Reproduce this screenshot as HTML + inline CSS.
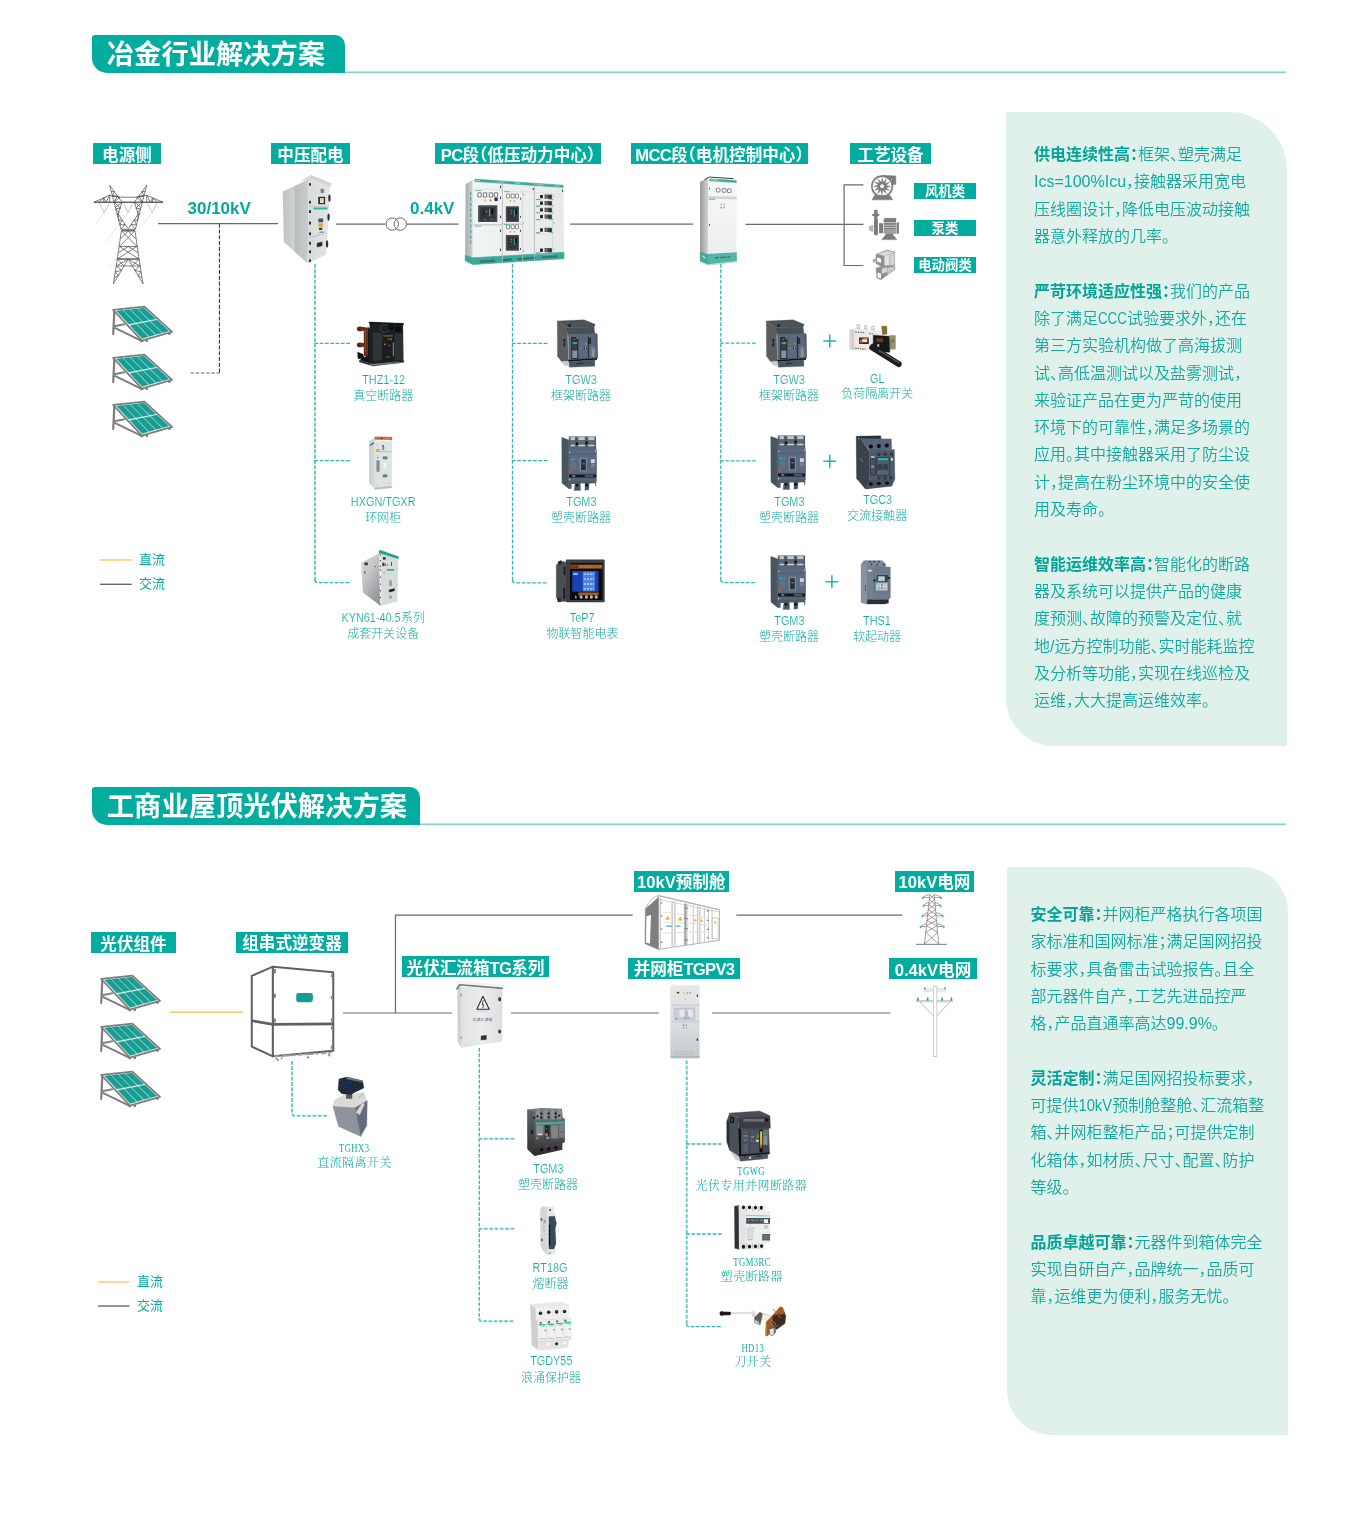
<!DOCTYPE html>
<html lang="zh-CN">
<head>
<meta charset="utf-8">
<title>冶金行业解决方案 / 工商业屋顶光伏解决方案</title>
<style>
html,body{margin:0;padding:0;background:#fff}
body{width:1350px;height:1528px;position:relative;overflow:hidden;font-family:"Liberation Sans","Noto Sans CJK SC",sans-serif;color:#03a99d}
#page{position:absolute;left:0;top:0;width:1350px;height:1528px;will-change:transform}
#lines{position:absolute;left:0;top:0;width:1350px;height:1528px}
.hd{position:absolute;background:#02ada0;color:#fff;font-weight:bold;font-size:27.3px;line-height:38px;height:38px;box-sizing:border-box;padding-left:15.3px;padding-top:1.6px;white-space:nowrap;border-radius:3px 10px 0 15px}
.tag{position:absolute;background:#02ada0;color:#fff;font-weight:bold;font-size:16.6px;line-height:21px;height:21px;box-sizing:border-box;padding-top:1.6px;text-align:center;white-space:nowrap;font-feature-settings:"halt" 1}
.tag .en{letter-spacing:-.7px}
.stag{position:absolute;background:#02ada0;color:#fff;font-weight:bold;font-size:13.4px;line-height:16px;height:16px;box-sizing:border-box;padding-top:1px;text-align:center;white-space:nowrap}
.kv{position:absolute;color:#03a99d;font-weight:bold;font-size:17px;line-height:20px;white-space:nowrap}
.lb{position:absolute;color:#10ada1;font-size:12px;line-height:14.6px;text-align:center;white-space:nowrap;width:160px;margin-left:-80px;font-weight:300}
.lb i{font-style:normal;font-size:12.5px;display:inline-block;transform:scaleX(.87);line-height:14.6px;vertical-align:top;-webkit-text-stroke:.14px #fff}
.lb u{text-decoration:none;display:block;margin-top:1.9px}
.ls{position:absolute;color:#10ada1;font-size:12px;line-height:14.3px;text-align:center;white-space:nowrap;width:160px;margin-left:-80px;font-family:"Liberation Serif","Noto Serif CJK SC",serif;font-weight:300;letter-spacing:.4px}
.ls i{font-style:normal;display:inline-block;transform:scaleX(.72);letter-spacing:.6px}
.lg{position:absolute;color:#03a99d;font-size:13px;line-height:16px;white-space:nowrap}
.panel{position:absolute;background:#e0f1ec}
.tx{position:absolute;color:#12aa9e;font-size:16px;line-height:27.3px;white-space:nowrap;font-feature-settings:"halt" 1;font-weight:350}
.tx b{font-weight:bold;color:#03a398}
.tx p{margin:0 0 27.3px 0}
.pr{position:absolute;overflow:visible}
</style>
</head>
<body>
<div id="page">

<div class="panel" style="left:1006px;top:112px;width:281px;height:634px;border-radius:0 58px 0 48px"></div>
<div class="panel" style="left:1007px;top:867px;width:281px;height:568px;border-radius:0 45px 0 45px"></div>
<svg id="lines" viewBox="0 0 1350 1528" width="1350" height="1528">
<line x1="345" y1="72.2" x2="1286" y2="72.2" stroke="#7fd3c9" stroke-width="1.6"/>
<line x1="420" y1="824.2" x2="1286" y2="824.2" stroke="#7fd3c9" stroke-width="1.6"/>
<line x1="158" y1="223.6" x2="278" y2="223.6" stroke="#6a6a6a" stroke-width="1.2"/>
<line x1="336" y1="224.1" x2="385.5" y2="224.1" stroke="#6a6a6a" stroke-width="1.2"/>
<line x1="407" y1="224.1" x2="458.5" y2="224.1" stroke="#6a6a6a" stroke-width="1.2"/>
<circle cx="392.3" cy="224.1" r="6.2" fill="none" stroke="#6a6a6a" stroke-width="1"/>
<circle cx="400.3" cy="224.1" r="6.2" fill="none" stroke="#6a6a6a" stroke-width="1"/>
<line x1="570" y1="224.2" x2="693" y2="224.2" stroke="#6a6a6a" stroke-width="1.2"/>
<line x1="745.5" y1="224.4" x2="863.4" y2="224.4" stroke="#6a6a6a" stroke-width="1.2"/>
<polyline points="863.4,184.8 844.1,184.8 844.1,265.5 863.4,265.5" fill="none" stroke="#6a6a6a" stroke-width="1.2"/>
<line x1="219.45" y1="223.6" x2="219.45" y2="373" stroke="#3c3c3c" stroke-width="1.1" stroke-dasharray="4.1 1.7"/>
<line x1="190.5" y1="373" x2="219.5" y2="373" stroke="#999" stroke-width="1.6" stroke-dasharray="3.6 1.6"/>
<polyline points="315,264 315,581.1" fill="none" stroke="#62cdc2" stroke-width="2" stroke-dasharray="3.7 1.6"/>
<line x1="314.4" y1="343.3" x2="351" y2="343.3" stroke="#2fb9ad" stroke-width="1.3" stroke-dasharray="3.7 1.6"/>
<line x1="314.4" y1="460.6" x2="351" y2="460.6" stroke="#2fb9ad" stroke-width="1.3" stroke-dasharray="3.7 1.6"/>
<path d="M315,580.1 Q315,582.6 317.5,582.6 L351,582.6" fill="none" stroke="#2fb9ad" stroke-width="1.3" stroke-dasharray="3.7 1.6"/>
<polyline points="512.5,264 512.5,581.3" fill="none" stroke="#2fb9ad" stroke-width="1.3" stroke-dasharray="3.7 1.6"/>
<line x1="511.9" y1="343.3" x2="548" y2="343.3" stroke="#2fb9ad" stroke-width="1.3" stroke-dasharray="3.7 1.6"/>
<line x1="511.9" y1="460.6" x2="548" y2="460.6" stroke="#2fb9ad" stroke-width="1.3" stroke-dasharray="3.7 1.6"/>
<path d="M512.5,580.3 Q512.5,582.8 515.0,582.8 L548,582.8" fill="none" stroke="#2fb9ad" stroke-width="1.3" stroke-dasharray="3.7 1.6"/>
<polyline points="720.8,264 720.8,581.1" fill="none" stroke="#2fb9ad" stroke-width="1.3" stroke-dasharray="3.7 1.6"/>
<line x1="720.1999999999999" y1="343.2" x2="756" y2="343.2" stroke="#2fb9ad" stroke-width="1.3" stroke-dasharray="3.7 1.6"/>
<line x1="720.1999999999999" y1="460.9" x2="756" y2="460.9" stroke="#2fb9ad" stroke-width="1.3" stroke-dasharray="3.7 1.6"/>
<path d="M720.8,580.1 Q720.8,582.6 723.3,582.6 L756,582.6" fill="none" stroke="#2fb9ad" stroke-width="1.3" stroke-dasharray="3.7 1.6"/>
<line x1="823.3" y1="341" x2="836.3" y2="341" stroke="#03a99d" stroke-width="1.3"/>
<line x1="829.8" y1="334.5" x2="829.8" y2="347.5" stroke="#03a99d" stroke-width="1.3"/>
<line x1="823.3" y1="461.2" x2="836.3" y2="461.2" stroke="#03a99d" stroke-width="1.3"/>
<line x1="829.8" y1="454.7" x2="829.8" y2="467.7" stroke="#03a99d" stroke-width="1.3"/>
<line x1="825.4" y1="581.8" x2="838.4" y2="581.8" stroke="#03a99d" stroke-width="1.3"/>
<line x1="831.9" y1="575.3" x2="831.9" y2="588.3" stroke="#03a99d" stroke-width="1.3"/>
<line x1="100" y1="560" x2="131.7" y2="560" stroke="#f6c667" stroke-width="1.4"/>
<line x1="100" y1="584.3" x2="131.7" y2="584.3" stroke="#666" stroke-width="1.4"/>
<line x1="169.6" y1="1012.3" x2="243" y2="1012.3" stroke="#f6c667" stroke-width="1.6"/>
<line x1="343" y1="1013.0" x2="452" y2="1013.0" stroke="#6a6a6a" stroke-width="1.2"/>
<line x1="511" y1="1013.0" x2="658.7" y2="1013.0" stroke="#6a6a6a" stroke-width="1.2"/>
<line x1="712" y1="1013.0" x2="890.4" y2="1013.0" stroke="#6a6a6a" stroke-width="1.2"/>
<polyline points="395.45,1013.0 395.45,915.1 632.6,915.1" fill="none" stroke="#6a6a6a" stroke-width="1.2"/>
<line x1="736.3" y1="915.1" x2="902.2" y2="915.1" stroke="#6a6a6a" stroke-width="1.2"/>
<path d="M292,1061 L292,1113 Q292,1115.8 295,1115.8 L328,1115.8" fill="none" stroke="#62cdc2" stroke-width="2" stroke-dasharray="3.7 1.6"/>
<polyline points="479.3,1048 479.3,1319.8" fill="none" stroke="#2fb9ad" stroke-width="1.3" stroke-dasharray="3.7 1.6"/>
<line x1="478.7" y1="1138.8" x2="515" y2="1138.8" stroke="#62cdc2" stroke-width="2" stroke-dasharray="3.7 1.6"/>
<line x1="478.7" y1="1228.8" x2="515" y2="1228.8" stroke="#62cdc2" stroke-width="2" stroke-dasharray="3.7 1.6"/>
<path d="M479.3,1318.8 Q479.3,1321.3 481.8,1321.3 L515,1321.3" fill="none" stroke="#62cdc2" stroke-width="2" stroke-dasharray="3.7 1.6"/>
<polyline points="686.7,1060.5 686.7,1325.2" fill="none" stroke="#62cdc2" stroke-width="2" stroke-dasharray="3.7 1.6"/>
<line x1="686.1" y1="1144" x2="722.5" y2="1144" stroke="#2fb9ad" stroke-width="1.3" stroke-dasharray="3.7 1.6"/>
<line x1="686.1" y1="1234" x2="722.5" y2="1234" stroke="#2fb9ad" stroke-width="1.3" stroke-dasharray="3.7 1.6"/>
<path d="M686.7,1324.2 Q686.7,1326.7 689.2,1326.7 L722.5,1326.7" fill="none" stroke="#2fb9ad" stroke-width="1.3" stroke-dasharray="3.7 1.6"/>
<line x1="98" y1="1282" x2="129.4" y2="1282" stroke="#f6c667" stroke-width="1.4"/>
<line x1="98" y1="1306" x2="129.4" y2="1306" stroke="#666" stroke-width="1.4"/>
</svg>
<div class="hd" style="left:91.5px;top:34.5px;width:253.2px">冶金行业解决方案</div>
<div class="hd" style="left:91.5px;top:786.5px;width:328.4px">工商业屋顶光伏解决方案</div>
<div class="tag" style="left:93px;top:143px;width:68px">电源侧</div>
<div class="tag" style="left:271px;top:143px;width:79px">中压配电</div>
<div class="tag" style="left:435px;top:143px;width:166px"><span class="en">PC</span>段（低压动力中心）</div>
<div class="tag" style="left:631px;top:143px;width:177px"><span class="en">MCC</span>段（电机控制中心）</div>
<div class="tag" style="left:850px;top:143px;width:81px">工艺设备</div>
<div class="stag" style="left:914px;top:183px;width:62px">风机类</div>
<div class="stag" style="left:914px;top:220px;width:62px">泵类</div>
<div class="stag" style="left:914px;top:256.5px;width:62px">电动阀类</div>
<div class="tag" style="left:91px;top:932px;width:85px">光伏组件</div>
<div class="tag" style="left:236px;top:931.5px;width:112px">组串式逆变器</div>
<div class="tag" style="left:402px;top:956px;width:147px">光伏汇流箱<span class="en">TG</span>系列</div>
<div class="tag" style="left:633.5px;top:870.5px;width:95.5px">10kV预制舱</div>
<div class="tag" style="left:895px;top:870.5px;width:79px">10kV电网</div>
<div class="tag" style="left:628px;top:957.5px;width:112px">并网柜<span class="en">TGPV3</span></div>
<div class="tag" style="left:889px;top:958px;width:88px">0.4kV电网</div>
<div class="kv" style="left:187.5px;top:198.8px">30/10kV</div>
<div class="kv" style="left:410px;top:198.8px">0.4kV</div>
<div class="lg" style="left:139px;top:551.5px">直流</div>
<div class="lg" style="left:139px;top:575.5px">交流</div>
<div class="lg" style="left:137px;top:1273.5px">直流</div>
<div class="lg" style="left:137px;top:1297.5px">交流</div>
<div class="lb" style="left:383.3px;top:372.7px"><i>THZ1-12</i><u>真空断路器</u></div>
<div class="lb" style="left:383.3px;top:494.8px"><i>HXGN/TGXR</i><u style="margin-top:1.6px">环网柜</u></div>
<div class="lb" style="left:383.3px;top:611px"><i style="margin:0 -4.4px">KYN61-40.5</i>系列<u>成套开关设备</u></div>
<div class="lb" style="left:581px;top:373px"><i>TGW3</i><u>框架断路器</u></div>
<div class="lb" style="left:581px;top:494.8px"><i>TGM3</i><u>塑壳断路器</u></div>
<div class="lb" style="left:582.5px;top:611px"><i>TeP7</i><u>物联智能电表</u></div>
<div class="lb" style="left:789px;top:373px"><i>TGW3</i><u style="margin-top:1.5px">框架断路器</u></div>
<div class="lb" style="left:789px;top:494.8px"><i>TGM3</i><u>塑壳断路器</u></div>
<div class="lb" style="left:789px;top:613.7px"><i>TGM3</i><u>塑壳断路器</u></div>
<div class="lb" style="left:877.3px;top:372.2px"><i>GL</i><u style="margin-top:0.2px">负荷隔离开关</u></div>
<div class="lb" style="left:877.3px;top:493.4px"><i>TGC3</i><u style="margin-top:1.4px">交流接触器</u></div>
<div class="lb" style="left:877px;top:613.7px"><i>THS1</i><u>软起动器</u></div>
<div class="lb" style="left:548px;top:1161.5px"><i>TGM3</i><u>塑壳断路器</u></div>
<div class="lb" style="left:550.5px;top:1260.5px"><i>RT18G</i><u>熔断器</u></div>
<div class="lb" style="left:551px;top:1354.2px"><i>TGDY55</i><u>浪涌保护器</u></div>
<div class="ls" style="left:354.5px;top:1141.4px"><i>TGHX3</i><br>直流隔离开关</div>
<div class="ls" style="left:751.3px;top:1164.4px"><i>TGWG</i><br>光伏专用并网断路器</div>
<div class="ls" style="left:751.8px;top:1255.4px"><i>TGM3RC</i><br>塑壳断路器</div>
<div class="ls" style="left:753px;top:1341.2px"><i>HD13</i><br>刀开关</div>
<div class="tx" style="left:1034px;top:141.2px">
<p><b>供电连续性高：</b>框架、塑壳满足<br>Ics=100%Icu，接触器采用宽电<br>压线圈设计，降低电压波动接触<br>器意外释放的几率。</p>
<p><b>严苛环境适应性强：</b>我们的产品<br>除了满足<span style="display:inline-block;transform:scaleX(.83);margin:0 -2.9px">CCC</span>试验要求外，还在<br>第三方实验机构做了高海拔测<br>试、高低温测试以及盐雾测试，<br>来验证产品在更为严苛的使用<br>环境下的可靠性，满足多场景的<br>应用。其中接触器采用了防尘设<br>计，提高在粉尘环境中的安全使<br>用及寿命。</p>
<p><b>智能运维效率高：</b>智能化的断路<br>器及系统可以提供产品的健康<br>度预测、故障的预警及定位、就<br>地/远方控制功能、实时能耗监控<br>及分析等功能，实现在线巡检及<br>运维，大大提高运维效率。</p>
</div>
<div class="tx" style="left:1030.5px;top:900.9px;line-height:27.31px">
<p style="margin-bottom:27.31px"><b>安全可靠：</b>并网柜严格执行各项国<br>家标准和国网标准；满足国网招投<br>标要求，具备雷击试验报告。且全<br>部元器件自产，工艺先进品控严<br>格，产品直通率高达99.9%。</p>
<p style="margin-bottom:27.31px"><b>灵活定制：</b>满足国网招投标要求，<br>可提供<span style="display:inline-block;transform:scaleX(.92);margin:0 -1.4px">10kV</span>预制舱整舱、汇流箱整<br>箱、并网柜整柜产品；可提供定制<br>化箱体，如材质、尺寸、配置、防护<br>等级。</p>
<p><b>品质卓越可靠：</b>元器件到箱体完全<br>实现自研自产，品牌统一，品质可<br>靠，运维更为便利，服务无忧。</p>
</div>
<svg class="pr" style="left:84px;top:178px" width="90" height="112" viewBox="0 0 1228 1528" preserveAspectRatio="none"><path d="M135,330 L1078,330 M135,330 L350,235 L490,262 L720,262 L855,235 L1078,330 M200,330 L270,272 L300,330 L350,235 L350,330 M270,272 L270,330 M1006,330 L936,272 L906,330 L856,235 L856,330 M936,272 L936,330 M350,100 L410,330 M350,100 L520,330 M372,185 L415,185 L388,245 L455,245 L410,330 M388,245 L490,262 L410,330 M410,330 L505,700 M520,330 L465,490 L600,690 M410,330 L500,410 L435,420 L480,470 L450,490 L465,490 M520,330 L430,400 M465,490 L475,580 L520,570 L490,640 L560,635 L505,700 M510,720 L455,1105 L400,1445 M600,1112 L400,1445 M455,1105 L545,1200 L440,1200 L515,1260 L428,1280 L470,1330 L415,1360 M600,1112 L440,1200 M515,725 L725,935 M485,935 L750,1105 M500,830 L603,725 M470,1020 L603,935 M856,100 L796,330 M856,100 L686,330 M834,185 L791,185 L818,245 L751,245 L796,330 M818,245 L716,262 L796,330 M796,330 L701,700 M686,330 L741,490 L606,690 M796,330 L706,410 L771,420 L726,470 L756,490 L741,490 M686,330 L776,400 M741,490 L731,580 L686,570 L716,640 L646,635 L701,700 M696,720 L751,1105 L806,1445 M606,1112 L806,1445 M751,1105 L661,1200 L766,1200 L691,1260 L778,1280 L736,1330 L791,1360 M606,1112 L766,1200 M691,725 L481,935 M721,935 L456,1105 M706,830 L603,725 M736,1020 L603,935 M510,700 L695,700 M515,725 L690,725 M485,935 L725,935 M455,1105 L750,1105 M545,1200 L660,1200" fill="none" stroke="#4f4f4f" stroke-width="10" stroke-linejoin="round"/><path d="M135,330 L1078,330 M455,1105 L750,1105 M510,712 L695,712" fill="none" stroke="#4f4f4f" stroke-width="14"/><path d="M210,340 L275,470 L350,340 M540,350 L600,475 L665,350 M865,350 L930,470 L995,340" fill="none" stroke="#777" stroke-width="6"/><path d="M275,470 L165,625 M600,475 L300,860 M930,470 L700,760 M450,1090 L355,1200" fill="none" stroke="#bdbdbd" stroke-width="5"/></svg>
<svg class="pr" style="left:106px;top:300px" width="74" height="46" viewBox="0 0 1350 839" preserveAspectRatio="none"><path d="M152,200 L132,620" fill="none" stroke="#7d7d7d" stroke-width="40" stroke-linecap="round"/><path d="M150,480 L345,440 M150,505 L650,745" fill="none" stroke="#7d7d7d" stroke-width="36"/><rect x="630" y="735" width="50" height="35" fill="#7d7d7d"/><rect x="722" y="730" width="43" height="35" fill="#7d7d7d"/><rect x="1135" y="600" width="45" height="35" fill="#7d7d7d"/><polygon points="130,180 700,120 1205,580 655,742" fill="#fff" stroke="#7d7d7d" stroke-width="32" stroke-linejoin="round"/><polygon points="194,201 308,188 529,419 416,440" fill="#189d93" stroke="#189d93" stroke-width="7" stroke-linejoin="round"/><polygon points="438,463 550,441 772,671 660,702" fill="#189d93" stroke="#189d93" stroke-width="7" stroke-linejoin="round"/><polygon points="322,187 436,174 656,394 543,416" fill="#189d93" stroke="#189d93" stroke-width="7" stroke-linejoin="round"/><polygon points="565,438 677,415 897,635 786,667" fill="#189d93" stroke="#189d93" stroke-width="7" stroke-linejoin="round"/><polygon points="451,173 565,160 783,370 670,392" fill="#189d93" stroke="#189d93" stroke-width="7" stroke-linejoin="round"/><polygon points="691,413 804,390 1022,600 911,631" fill="#189d93" stroke="#189d93" stroke-width="7" stroke-linejoin="round"/><polygon points="579,159 693,146 910,346 797,367" fill="#189d93" stroke="#189d93" stroke-width="7" stroke-linejoin="round"/><polygon points="818,387 931,365 1148,564 1036,596" fill="#189d93" stroke="#189d93" stroke-width="7" stroke-linejoin="round"/></svg>
<svg class="pr" style="left:106px;top:347.6px" width="74" height="46.0" viewBox="0 0 1350 839" preserveAspectRatio="none"><path d="M152,200 L132,620" fill="none" stroke="#7d7d7d" stroke-width="40" stroke-linecap="round"/><path d="M150,480 L345,440 M150,505 L650,745" fill="none" stroke="#7d7d7d" stroke-width="36"/><rect x="630" y="735" width="50" height="35" fill="#7d7d7d"/><rect x="722" y="730" width="43" height="35" fill="#7d7d7d"/><rect x="1135" y="600" width="45" height="35" fill="#7d7d7d"/><polygon points="130,180 700,120 1205,580 655,742" fill="#fff" stroke="#7d7d7d" stroke-width="32" stroke-linejoin="round"/><polygon points="194,201 308,188 529,419 416,440" fill="#189d93" stroke="#189d93" stroke-width="7" stroke-linejoin="round"/><polygon points="438,463 550,441 772,671 660,702" fill="#189d93" stroke="#189d93" stroke-width="7" stroke-linejoin="round"/><polygon points="322,187 436,174 656,394 543,416" fill="#189d93" stroke="#189d93" stroke-width="7" stroke-linejoin="round"/><polygon points="565,438 677,415 897,635 786,667" fill="#189d93" stroke="#189d93" stroke-width="7" stroke-linejoin="round"/><polygon points="451,173 565,160 783,370 670,392" fill="#189d93" stroke="#189d93" stroke-width="7" stroke-linejoin="round"/><polygon points="691,413 804,390 1022,600 911,631" fill="#189d93" stroke="#189d93" stroke-width="7" stroke-linejoin="round"/><polygon points="579,159 693,146 910,346 797,367" fill="#189d93" stroke="#189d93" stroke-width="7" stroke-linejoin="round"/><polygon points="818,387 931,365 1148,564 1036,596" fill="#189d93" stroke="#189d93" stroke-width="7" stroke-linejoin="round"/></svg>
<svg class="pr" style="left:106px;top:395px" width="74" height="46" viewBox="0 0 1350 839" preserveAspectRatio="none"><path d="M152,200 L132,620" fill="none" stroke="#7d7d7d" stroke-width="40" stroke-linecap="round"/><path d="M150,480 L345,440 M150,505 L650,745" fill="none" stroke="#7d7d7d" stroke-width="36"/><rect x="630" y="735" width="50" height="35" fill="#7d7d7d"/><rect x="722" y="730" width="43" height="35" fill="#7d7d7d"/><rect x="1135" y="600" width="45" height="35" fill="#7d7d7d"/><polygon points="130,180 700,120 1205,580 655,742" fill="#fff" stroke="#7d7d7d" stroke-width="32" stroke-linejoin="round"/><polygon points="194,201 308,188 529,419 416,440" fill="#189d93" stroke="#189d93" stroke-width="7" stroke-linejoin="round"/><polygon points="438,463 550,441 772,671 660,702" fill="#189d93" stroke="#189d93" stroke-width="7" stroke-linejoin="round"/><polygon points="322,187 436,174 656,394 543,416" fill="#189d93" stroke="#189d93" stroke-width="7" stroke-linejoin="round"/><polygon points="565,438 677,415 897,635 786,667" fill="#189d93" stroke="#189d93" stroke-width="7" stroke-linejoin="round"/><polygon points="451,173 565,160 783,370 670,392" fill="#189d93" stroke="#189d93" stroke-width="7" stroke-linejoin="round"/><polygon points="691,413 804,390 1022,600 911,631" fill="#189d93" stroke="#189d93" stroke-width="7" stroke-linejoin="round"/><polygon points="579,159 693,146 910,346 797,367" fill="#189d93" stroke="#189d93" stroke-width="7" stroke-linejoin="round"/><polygon points="818,387 931,365 1148,564 1036,596" fill="#189d93" stroke="#189d93" stroke-width="7" stroke-linejoin="round"/></svg>
<svg class="pr" style="left:94px;top:968.6px" width="74" height="46.0" viewBox="0 0 1350 839" preserveAspectRatio="none"><path d="M152,200 L132,620" fill="none" stroke="#7d7d7d" stroke-width="40" stroke-linecap="round"/><path d="M150,480 L345,440 M150,505 L650,745" fill="none" stroke="#7d7d7d" stroke-width="36"/><rect x="630" y="735" width="50" height="35" fill="#7d7d7d"/><rect x="722" y="730" width="43" height="35" fill="#7d7d7d"/><rect x="1135" y="600" width="45" height="35" fill="#7d7d7d"/><polygon points="130,180 700,120 1205,580 655,742" fill="#fff" stroke="#7d7d7d" stroke-width="32" stroke-linejoin="round"/><polygon points="194,201 308,188 529,419 416,440" fill="#189d93" stroke="#189d93" stroke-width="7" stroke-linejoin="round"/><polygon points="438,463 550,441 772,671 660,702" fill="#189d93" stroke="#189d93" stroke-width="7" stroke-linejoin="round"/><polygon points="322,187 436,174 656,394 543,416" fill="#189d93" stroke="#189d93" stroke-width="7" stroke-linejoin="round"/><polygon points="565,438 677,415 897,635 786,667" fill="#189d93" stroke="#189d93" stroke-width="7" stroke-linejoin="round"/><polygon points="451,173 565,160 783,370 670,392" fill="#189d93" stroke="#189d93" stroke-width="7" stroke-linejoin="round"/><polygon points="691,413 804,390 1022,600 911,631" fill="#189d93" stroke="#189d93" stroke-width="7" stroke-linejoin="round"/><polygon points="579,159 693,146 910,346 797,367" fill="#189d93" stroke="#189d93" stroke-width="7" stroke-linejoin="round"/><polygon points="818,387 931,365 1148,564 1036,596" fill="#189d93" stroke="#189d93" stroke-width="7" stroke-linejoin="round"/></svg>
<svg class="pr" style="left:94px;top:1016.9px" width="74" height="46.000000000000114" viewBox="0 0 1350 839" preserveAspectRatio="none"><path d="M152,200 L132,620" fill="none" stroke="#7d7d7d" stroke-width="40" stroke-linecap="round"/><path d="M150,480 L345,440 M150,505 L650,745" fill="none" stroke="#7d7d7d" stroke-width="36"/><rect x="630" y="735" width="50" height="35" fill="#7d7d7d"/><rect x="722" y="730" width="43" height="35" fill="#7d7d7d"/><rect x="1135" y="600" width="45" height="35" fill="#7d7d7d"/><polygon points="130,180 700,120 1205,580 655,742" fill="#fff" stroke="#7d7d7d" stroke-width="32" stroke-linejoin="round"/><polygon points="194,201 308,188 529,419 416,440" fill="#189d93" stroke="#189d93" stroke-width="7" stroke-linejoin="round"/><polygon points="438,463 550,441 772,671 660,702" fill="#189d93" stroke="#189d93" stroke-width="7" stroke-linejoin="round"/><polygon points="322,187 436,174 656,394 543,416" fill="#189d93" stroke="#189d93" stroke-width="7" stroke-linejoin="round"/><polygon points="565,438 677,415 897,635 786,667" fill="#189d93" stroke="#189d93" stroke-width="7" stroke-linejoin="round"/><polygon points="451,173 565,160 783,370 670,392" fill="#189d93" stroke="#189d93" stroke-width="7" stroke-linejoin="round"/><polygon points="691,413 804,390 1022,600 911,631" fill="#189d93" stroke="#189d93" stroke-width="7" stroke-linejoin="round"/><polygon points="579,159 693,146 910,346 797,367" fill="#189d93" stroke="#189d93" stroke-width="7" stroke-linejoin="round"/><polygon points="818,387 931,365 1148,564 1036,596" fill="#189d93" stroke="#189d93" stroke-width="7" stroke-linejoin="round"/></svg>
<svg class="pr" style="left:94px;top:1065.2px" width="74" height="46.0" viewBox="0 0 1350 839" preserveAspectRatio="none"><path d="M152,200 L132,620" fill="none" stroke="#7d7d7d" stroke-width="40" stroke-linecap="round"/><path d="M150,480 L345,440 M150,505 L650,745" fill="none" stroke="#7d7d7d" stroke-width="36"/><rect x="630" y="735" width="50" height="35" fill="#7d7d7d"/><rect x="722" y="730" width="43" height="35" fill="#7d7d7d"/><rect x="1135" y="600" width="45" height="35" fill="#7d7d7d"/><polygon points="130,180 700,120 1205,580 655,742" fill="#fff" stroke="#7d7d7d" stroke-width="32" stroke-linejoin="round"/><polygon points="194,201 308,188 529,419 416,440" fill="#189d93" stroke="#189d93" stroke-width="7" stroke-linejoin="round"/><polygon points="438,463 550,441 772,671 660,702" fill="#189d93" stroke="#189d93" stroke-width="7" stroke-linejoin="round"/><polygon points="322,187 436,174 656,394 543,416" fill="#189d93" stroke="#189d93" stroke-width="7" stroke-linejoin="round"/><polygon points="565,438 677,415 897,635 786,667" fill="#189d93" stroke="#189d93" stroke-width="7" stroke-linejoin="round"/><polygon points="451,173 565,160 783,370 670,392" fill="#189d93" stroke="#189d93" stroke-width="7" stroke-linejoin="round"/><polygon points="691,413 804,390 1022,600 911,631" fill="#189d93" stroke="#189d93" stroke-width="7" stroke-linejoin="round"/><polygon points="579,159 693,146 910,346 797,367" fill="#189d93" stroke="#189d93" stroke-width="7" stroke-linejoin="round"/><polygon points="818,387 931,365 1148,564 1036,596" fill="#189d93" stroke="#189d93" stroke-width="7" stroke-linejoin="round"/></svg>
<svg class="pr" style="left:862px;top:170px" width="44" height="116" viewBox="0 0 580 1528" preserveAspectRatio="none"><polygon points="265,70 445,78 445,190 395,190 395,120 265,120" fill="#7b7b7b" stroke="#7b7b7b" stroke-width="7" stroke-linejoin="round"/><circle cx="265" cy="215" r="146" fill="#7b7b7b"/><circle cx="265" cy="215" r="124" fill="#fff"/><polygon points="375,215 314,234 360,270 298,255 320,310 273,266 265,325 246,264 210,310 225,248 170,270 214,223 155,215 216,196 170,160 232,175 210,120 257,164 265,105 284,166 320,120 305,182 360,160 316,207" fill="#7b7b7b" stroke="#7b7b7b" stroke-width="7" stroke-linejoin="round"/><circle cx="265" cy="215" r="26" fill="#fff"/><polygon points="165,335 370,335 405,392 133,392" fill="#7b7b7b" stroke="#7b7b7b" stroke-width="7" stroke-linejoin="round"/><rect x="160" y="525" width="45" height="140" fill="#7b7b7b"/><rect x="135" y="578" width="92" height="28" fill="#7b7b7b"/><rect x="158" y="650" width="52" height="208" fill="#7b7b7b" rx="14"/><polygon points="95,745 145,725 145,815 95,795" fill="#b5b5b5" stroke="#b5b5b5" stroke-width="7" stroke-linejoin="round"/><rect x="225" y="700" width="52" height="132" fill="#7b7b7b" rx="6"/><rect x="287" y="660" width="160" height="178" fill="#7b7b7b"/><polygon points="300,635 447,635 447,665 287,665" fill="#7b7b7b" stroke="#7b7b7b" stroke-width="7" stroke-linejoin="round"/><rect x="292" y="690" width="155" height="9" fill="#e6e6e6"/><rect x="292" y="722" width="155" height="9" fill="#e6e6e6"/><rect x="292" y="754" width="155" height="9" fill="#e6e6e6"/><rect x="292" y="786" width="155" height="9" fill="#e6e6e6"/><rect x="292" y="812" width="155" height="9" fill="#e6e6e6"/><rect x="455" y="690" width="31" height="150" fill="#7b7b7b"/><polygon points="320,842 400,842 458,917 262,917" fill="#7b7b7b" stroke="#7b7b7b" stroke-width="7" stroke-linejoin="round"/><polygon points="185,1110 330,1055 430,1080 430,1250 290,1292 185,1232" fill="#8f8f8f" stroke="#8f8f8f" stroke-width="7" stroke-linejoin="round"/><polygon points="215,1105 330,1068 415,1088 300,1128" fill="#d9d9d9" stroke="#d9d9d9" stroke-width="7" stroke-linejoin="round"/><polygon points="300,1135 360,1118 360,1262 300,1280" fill="#e2e2e2" stroke="#e2e2e2" stroke-width="7" stroke-linejoin="round"/><polygon points="372,1112 425,1098 425,1240 372,1258" fill="#d4d4d4" stroke="#d4d4d4" stroke-width="7" stroke-linejoin="round"/><polygon points="200,1150 250,1168 250,1225 200,1205" fill="#fff"/><polygon points="140,1185 190,1165 195,1195 150,1215" fill="#aaa" stroke="#aaa" stroke-width="7" stroke-linejoin="round"/><polygon points="185,1290 300,1262 430,1262 432,1312 310,1400 250,1447 195,1422" fill="#8f8f8f" stroke="#8f8f8f" stroke-width="7" stroke-linejoin="round"/><polygon points="205,1350 250,1365 250,1430 205,1412" fill="#fff"/><polygon points="265,1300 330,1285 330,1340 265,1360" fill="#d9d9d9" stroke="#d9d9d9" stroke-width="7" stroke-linejoin="round"/><polygon points="340,1290 420,1275 420,1310 340,1370" fill="#c9c9c9" stroke="#c9c9c9" stroke-width="7" stroke-linejoin="round"/></svg>
<svg class="pr" style="left:900px;top:888px" width="70" height="174" viewBox="0 0 615 1528" preserveAspectRatio="none"><line x1="140" y1="495" x2="412" y2="495" stroke="#8a8a8a" stroke-width="10"/><path d="M215,492 L262,60 M340,492 L300,60 M262,60 L304,100 M300,60 L258,100 M258,100 L308,145 M304,100 L253,145 M253,145 L312,190 M308,145 L248,190 M248,190 L316,235 M312,190 L243,235 M243,235 L321,285 M316,235 L238,285 M238,285 L325,330 M321,285 L233,330 M233,330 L331,390 M325,330 L226,390 M226,390 L340,492 M331,390 L215,492" fill="none" stroke="#5a5a5a" stroke-width="5"/><path d="M200,83 Q230,61 262,57 M362,83 Q332,61 300,57 M200,83 L259,85 M362,83 L302,85" fill="none" stroke="#5a5a5a" stroke-width="5"/><rect x="194" y="79" width="12" height="20" fill="#2fb0a4" rx="3"/><rect x="356" y="79" width="12" height="20" fill="#2fb0a4" rx="3"/><path d="M205,153 Q229,131 255,127 M358,153 Q333,131 306,127 M205,153 L252,155 M358,153 L309,155" fill="none" stroke="#5a5a5a" stroke-width="5"/><rect x="199" y="149" width="12" height="20" fill="#2fb0a4" rx="3"/><rect x="352" y="149" width="12" height="20" fill="#2fb0a4" rx="3"/><path d="M195,243 Q219,221 245,217 M375,243 Q346,221 315,217 M195,243 L242,245 M375,243 L317,245" fill="none" stroke="#5a5a5a" stroke-width="5"/><rect x="189" y="239" width="12" height="20" fill="#2fb0a4" rx="3"/><rect x="369" y="239" width="12" height="20" fill="#2fb0a4" rx="3"/><path d="M180,338 Q206,316 235,312 M385,338 Q355,316 323,312 M180,338 L232,340 M385,338 L326,340" fill="none" stroke="#5a5a5a" stroke-width="5"/><rect x="174" y="334" width="12" height="20" fill="#2fb0a4" rx="3"/><rect x="379" y="334" width="12" height="20" fill="#2fb0a4" rx="3"/><rect x="293" y="868" width="31" height="610" fill="#fff" stroke="#a8a8a8" stroke-width="4"/><rect x="213" y="886" width="189" height="20" fill="#e9e9e9" stroke="#bdbdbd" stroke-width="3"/><rect x="212" y="872" width="12" height="18" fill="#2a9d92"/><rect x="390" y="872" width="12" height="18" fill="#2a9d92"/><path d="M175,1000 L295,1125 M440,1000 L322,1125" fill="none" stroke="#9a9a9a" stroke-width="6"/><rect x="145" y="986" width="317" height="15" fill="#dcdcdc" stroke="#a8a8a8" stroke-width="3"/><rect x="150" y="962" width="14" height="28" fill="#249a8f" rx="3"/><rect x="236" y="962" width="14" height="28" fill="#249a8f" rx="3"/><rect x="363" y="962" width="14" height="28" fill="#249a8f" rx="3"/><rect x="445" y="962" width="14" height="28" fill="#249a8f" rx="3"/><rect x="293" y="868" width="31" height="610" fill="#fff" stroke="#a8a8a8" stroke-width="4"/></svg>
<svg class="pr" style="left:244px;top:960px" width="100" height="106" viewBox="0 0 1350 1431" preserveAspectRatio="none"><polygon points="105,215 390,90 390,1300 105,1170" fill="#fff" stroke="#606060" stroke-width="27" stroke-linejoin="round"/><polygon points="390,90 1205,165 1205,1225 390,1300" fill="#fff" stroke="#606060" stroke-width="27" stroke-linejoin="round"/><path d="M105,820 L390,868 L1205,862" fill="none" stroke="#606060" stroke-width="36"/><rect x="401" y="120" width="28" height="60" fill="#777"/><rect x="401" y="455" width="28" height="55" fill="#777"/><rect x="401" y="790" width="28" height="52" fill="#777"/><rect x="1172" y="190" width="28" height="42" fill="#8a8a8a"/><rect x="1172" y="485" width="28" height="42" fill="#8a8a8a"/><rect x="1172" y="790" width="28" height="42" fill="#8a8a8a"/><rect x="1172" y="895" width="28" height="42" fill="#8a8a8a"/><rect x="1172" y="1155" width="28" height="45" fill="#8a8a8a"/><rect x="705" y="445" width="225" height="125" fill="#179c92" rx="32"/><path d="M410,1300 L1180,1250" fill="none" stroke="#9a9a9a" stroke-width="26" stroke-dasharray="70 30 120 25 40 30"/><path d="M430,1325 L470,1360 M500,1320 L515,1335 M850,1305 L880,1320 M1140,1270 L1160,1300" fill="none" stroke="#888" stroke-width="22"/></svg>
<svg class="pr" style="left:636px;top:888px" width="94" height="66" viewBox="0 0 1350 948" preserveAspectRatio="none"><polygon points="320,112 1200,315 1200,752 320,882" fill="#fff" stroke="#a5a5a5" stroke-width="12" stroke-linejoin="round"/><path d="M132,300 Q200,150 320,105 L1200,312" fill="none" stroke="#b0b0b0" stroke-width="12"/><polygon points="135,300 320,135 320,882 130,800" fill="#7f7f7f" stroke="#7f7f7f" stroke-width="7" stroke-linejoin="round"/><polygon points="150,402 215,388 200,800 142,782" fill="#fff"/><path d="M330,165 L1195,345" fill="none" stroke="#c4c4c4" stroke-width="10"/><line x1="348" y1="146" x2="348" y2="871" stroke="#9a9a9a" stroke-width="10"/><line x1="520" y1="183" x2="520" y2="847" stroke="#d0d0d0" stroke-width="26"/><line x1="558" y1="191" x2="558" y2="842" stroke="#c2c2c2" stroke-width="18"/><line x1="705" y1="223" x2="705" y2="821" stroke="#8a8a8a" stroke-width="20"/><line x1="730" y1="229" x2="730" y2="818" stroke="#9d9d9d" stroke-width="12"/><line x1="822" y1="248" x2="822" y2="805" stroke="#b0b0b0" stroke-width="10"/><line x1="885" y1="262" x2="885" y2="796" stroke="#c8c8c8" stroke-width="20"/><line x1="918" y1="269" x2="918" y2="791" stroke="#aaa" stroke-width="12"/><line x1="985" y1="284" x2="985" y2="782" stroke="#b5b5b5" stroke-width="10"/><line x1="1040" y1="295" x2="1040" y2="774" stroke="#c0c0c0" stroke-width="14"/><line x1="1092" y1="307" x2="1092" y2="767" stroke="#b0b0b0" stroke-width="10"/><rect x="351" y="206" width="28" height="18" fill="#8a8a8a"/><rect x="351" y="391" width="28" height="18" fill="#8a8a8a"/><rect x="351" y="581" width="28" height="18" fill="#8a8a8a"/><rect x="351" y="771" width="28" height="18" fill="#8a8a8a"/><rect x="691" y="276" width="28" height="18" fill="#8a8a8a"/><rect x="691" y="426" width="28" height="18" fill="#8a8a8a"/><rect x="691" y="576" width="28" height="18" fill="#8a8a8a"/><rect x="691" y="736" width="28" height="18" fill="#8a8a8a"/><rect x="721" y="281" width="28" height="18" fill="#8a8a8a"/><rect x="721" y="431" width="28" height="18" fill="#8a8a8a"/><rect x="721" y="576" width="28" height="18" fill="#8a8a8a"/><rect x="721" y="736" width="28" height="18" fill="#8a8a8a"/><rect x="1016" y="321" width="28" height="18" fill="#8a8a8a"/><rect x="1016" y="456" width="28" height="18" fill="#8a8a8a"/><rect x="1016" y="586" width="28" height="18" fill="#8a8a8a"/><rect x="1016" y="706" width="28" height="18" fill="#8a8a8a"/><line x1="385" y1="350" x2="505" y2="350" stroke="#dedede" stroke-width="14"/><line x1="385" y1="498" x2="505" y2="498" stroke="#dedede" stroke-width="14"/><line x1="385" y1="645" x2="505" y2="645" stroke="#dedede" stroke-width="14"/><line x1="585" y1="378" x2="690" y2="378" stroke="#dedede" stroke-width="14"/><line x1="585" y1="505" x2="690" y2="505" stroke="#dedede" stroke-width="14"/><line x1="585" y1="640" x2="690" y2="640" stroke="#dedede" stroke-width="14"/><line x1="750" y1="395" x2="890" y2="395" stroke="#dedede" stroke-width="14"/><line x1="750" y1="512" x2="890" y2="512" stroke="#dedede" stroke-width="14"/><line x1="750" y1="630" x2="890" y2="630" stroke="#dedede" stroke-width="14"/><line x1="930" y1="420" x2="1020" y2="420" stroke="#dedede" stroke-width="14"/><line x1="930" y1="525" x2="1020" y2="525" stroke="#dedede" stroke-width="14"/><line x1="930" y1="630" x2="1020" y2="630" stroke="#dedede" stroke-width="14"/><polygon points="455,402 485,453 425,453" fill="#f2b233" stroke="#f2b233" stroke-width="7" stroke-linejoin="round"/><polygon points="635,412 665,463 605,463" fill="#f2b233" stroke="#f2b233" stroke-width="7" stroke-linejoin="round"/><polygon points="850,444 868,475 832,475" fill="#f2b233" stroke="#f2b233" stroke-width="7" stroke-linejoin="round"/><polygon points="945,448 963,479 927,479" fill="#f2b233" stroke="#f2b233" stroke-width="7" stroke-linejoin="round"/><polygon points="1140,474 1158,505 1122,505" fill="#f2b233" stroke="#f2b233" stroke-width="7" stroke-linejoin="round"/><rect x="428" y="538" width="94" height="18" fill="#49b5a9" rx="6"/><rect x="568" y="538" width="74" height="18" fill="#49b5a9" rx="6"/><rect x="1095" y="430" width="85" height="300" fill="#fff" stroke="#b5b5b5" stroke-width="10"/><polygon points="1140,476 1158,506 1122,506" fill="#f2b233" stroke="#f2b233" stroke-width="7" stroke-linejoin="round"/></svg>
<svg class="pr" style="left:272px;top:170px" width="70" height="100" viewBox="0 0 1070 1528" preserveAspectRatio="none"><defs><linearGradient id="mvs" x1="0" y1="0" x2="1" y2="0"><stop offset="0" stop-color="#bfc3c3"/><stop offset="0.45" stop-color="#cfd2d2"/><stop offset="0.5" stop-color="#babebe"/><stop offset="1" stop-color="#cacdcd"/></linearGradient></defs><defs><linearGradient id="mvf" x1="0" y1="0" x2="1" y2="0"><stop offset="0" stop-color="#d8dbdb"/><stop offset="1" stop-color="#e4e6e6"/></linearGradient></defs><polygon points="165,330 560,140 545,1430 180,1100" fill="url(#mvs)"/><polygon points="450,160 600,80 915,210 880,262 570,150" fill="#d6d9d9" stroke="#d6d9d9" stroke-width="7" stroke-linejoin="round"/><path d="M600,95 L900,220" fill="none" stroke="#bfc2c2" stroke-width="14" stroke-dasharray="22 14"/><polygon points="560,150 885,268 830,1290 545,1430" fill="url(#mvf)"/><path d="M352,250 L352,1250" fill="none" stroke="#b4b8b8" stroke-width="8"/><path d="M568,555 L868,562 M560,1030 L838,965" fill="none" stroke="#b9bcbc" stroke-width="12"/><polygon points="640,575 845,578 845,598 640,600" fill="#31b4a7" stroke="#31b4a7" stroke-width="7" stroke-linejoin="round"/><rect x="566" y="198" width="30" height="44" fill="#2d3236" rx="8"/><rect x="566" y="468" width="30" height="44" fill="#2d3236" rx="8"/><rect x="566" y="613" width="30" height="44" fill="#2d3236" rx="8"/><rect x="566" y="788" width="30" height="44" fill="#2d3236" rx="8"/><rect x="566" y="953" width="30" height="44" fill="#2d3236" rx="8"/><rect x="566" y="1098" width="30" height="44" fill="#2d3236" rx="8"/><rect x="566" y="1228" width="30" height="44" fill="#2d3236" rx="8"/><rect x="566" y="1363" width="30" height="44" fill="#2d3236" rx="8"/><rect x="742" y="288" width="54" height="64" fill="#7d8794" rx="10"/><rect x="706" y="408" width="106" height="114" fill="#2c3136" rx="8"/><rect x="735" y="428" width="55" height="77" fill="#f0ead8"/><rect x="750" y="435" width="20" height="45" fill="#e8b53a"/><rect x="708" y="742" width="74" height="56" fill="#4a5056" rx="4"/><rect x="708" y="812" width="70" height="54" fill="#d9a83f" rx="6"/><rect x="718" y="882" width="50" height="36" fill="#3a4046" rx="6"/><rect x="725" y="940" width="65" height="22" fill="#8a9096" rx="6"/><polygon points="690,1118 765,1100 765,1158 690,1176" fill="#23272b" stroke="#23272b" stroke-width="7" stroke-linejoin="round"/><ellipse cx="878" cy="430" rx="18" ry="55" fill="#2e3337"/><ellipse cx="865" cy="720" rx="18" ry="55" fill="#2e3337"/><ellipse cx="842" cy="1130" rx="18" ry="55" fill="#2e3337"/></svg>
<svg class="pr" style="left:458px;top:170px" width="114" height="102" viewBox="0 0 1350 1208" preserveAspectRatio="none"><defs><linearGradient id="pcs" x1="0" y1="0" x2="1" y2="0"><stop offset="0" stop-color="#a9adad"/><stop offset="1" stop-color="#cfd2d2"/></linearGradient></defs><defs><linearGradient id="pcf" x1="0" y1="0" x2="1" y2="0"><stop offset="0" stop-color="#f3f4f4"/><stop offset="1" stop-color="#e7e9e9"/></linearGradient></defs><polygon points="90,170 175,115 175,1120 85,1075" fill="url(#pcs)"/><path d="M150,260 L150,900" fill="none" stroke="#49ab9f" stroke-width="14" stroke-dasharray="40 24"/><polygon points="175,115 1250,190 1255,1010 175,1120" fill="url(#pcf)"/><polygon points="200,108 1245,180 1245,206 200,136" fill="#3fa89d" stroke="#3fa89d" stroke-width="7" stroke-linejoin="round"/><path d="M205,122 L1240,193" fill="none" stroke="#e8f4f2" stroke-width="6" stroke-dasharray="60 200 90 120"/><polygon points="85,1010 175,1040 1255,975 1255,1050 175,1120 85,1075" fill="#3fa89d" stroke="#3fa89d" stroke-width="7" stroke-linejoin="round"/><path d="M260,1085 L1200,1022" fill="none" stroke="#2e7a72" stroke-width="26" stroke-dasharray="180 90 110 60 220 80"/><path d="M525,140 L525,1095 M905,165 L905,1068" fill="none" stroke="#b4b8b8" stroke-width="10"/><path d="M765,260 L765,1080" fill="none" stroke="#c6c9c9" stroke-width="7"/><path d="M1120,285 L1120,990" fill="none" stroke="#c9cccc" stroke-width="7"/><path d="M180,650 L520,650 M530,640 L760,640" fill="none" stroke="#b0b4b4" stroke-width="10"/><path d="M180,225 L520,235 M530,250 L900,262 M910,265 L1250,290" fill="none" stroke="#d0d3d3" stroke-width="6"/><rect x="235" y="270" width="40" height="50" fill="#fff" rx="4" stroke="#4a4a4a" stroke-width="9"/><rect x="300" y="270" width="40" height="50" fill="#fff" rx="4" stroke="#4a4a4a" stroke-width="9"/><rect x="370" y="270" width="40" height="50" fill="#fff" rx="4" stroke="#4a4a4a" stroke-width="9"/><rect x="430" y="270" width="40" height="50" fill="#fff" rx="4" stroke="#4a4a4a" stroke-width="9"/><circle cx="322" cy="358" r="11" fill="#f0b030"/><circle cx="386" cy="358" r="11" fill="#d85a30"/><rect x="432" y="328" width="38" height="40" fill="#2b2b2b" rx="6"/><path d="M322,370 L322,385 M386,370 L386,385" fill="none" stroke="#c9c9c9" stroke-width="10"/><rect x="238" y="418" width="228" height="198" fill="#4b4e52" rx="8"/><rect x="262" y="440" width="183" height="160" fill="#33363a" rx="6"/><rect x="390" y="460" width="25" height="60" fill="#0c0c0c"/><rect x="368" y="460" width="14" height="90" fill="#2fb5a8"/><circle cx="338" cy="492" r="9" fill="#e0702a"/><rect x="300" y="470" width="12" height="70" fill="#16181a"/><path d="M300,585 L340,585 M380,585 L420,585" fill="none" stroke="#8a8d91" stroke-width="7"/><rect x="205" y="238" width="75" height="10" fill="#58b8ad"/><rect x="200" y="660" width="75" height="10" fill="#58b8ad"/><rect x="575" y="285" width="36" height="45" fill="#fff" rx="4" stroke="#555" stroke-width="8"/><rect x="630" y="285" width="36" height="45" fill="#fff" rx="4" stroke="#555" stroke-width="8"/><rect x="680" y="285" width="36" height="45" fill="#fff" rx="4" stroke="#555" stroke-width="8"/><circle cx="620" cy="365" r="10" fill="#f0a030"/><circle cx="668" cy="365" r="10" fill="#f0b030"/><rect x="566" y="430" width="156" height="186" fill="#4b4e52" rx="8"/><rect x="585" y="448" width="120" height="152" fill="#33363a" rx="6"/><rect x="680" y="470" width="18" height="55" fill="#0c0c0c"/><rect x="662" y="470" width="10" height="80" fill="#2fb5a8"/><circle cx="632" cy="480" r="8" fill="#e0702a"/><circle cx="632" cy="508" r="8" fill="#e0702a"/><rect x="575" y="650" width="36" height="45" fill="#fff" rx="4" stroke="#555" stroke-width="8"/><rect x="630" y="650" width="36" height="45" fill="#fff" rx="4" stroke="#555" stroke-width="8"/><rect x="680" y="650" width="36" height="45" fill="#fff" rx="4" stroke="#555" stroke-width="8"/><circle cx="620" cy="730" r="10" fill="#f0a030"/><circle cx="668" cy="730" r="10" fill="#f0b030"/><rect x="566" y="770" width="156" height="186" fill="#4b4e52" rx="8"/><rect x="585" y="788" width="120" height="152" fill="#33363a" rx="6"/><rect x="680" y="810" width="18" height="55" fill="#0c0c0c"/><rect x="662" y="810" width="10" height="80" fill="#2fb5a8"/><circle cx="632" cy="820" r="8" fill="#e0702a"/><circle cx="632" cy="848" r="8" fill="#e0702a"/><rect x="545" y="252" width="70" height="10" fill="#58b8ad"/><rect x="545" y="642" width="70" height="10" fill="#58b8ad"/><rect x="497" y="186" width="12" height="28" fill="#333"/><rect x="497" y="316" width="12" height="28" fill="#333"/><rect x="497" y="541" width="12" height="28" fill="#333"/><rect x="497" y="706" width="12" height="28" fill="#333"/><rect x="497" y="931" width="12" height="28" fill="#333"/><rect x="735" y="328" width="10" height="24" fill="#333"/><rect x="735" y="543" width="10" height="24" fill="#333"/><rect x="735" y="708" width="10" height="24" fill="#333"/><rect x="735" y="923" width="10" height="24" fill="#333"/><rect x="772" y="281" width="12" height="18" fill="#9a9a9a"/><rect x="772" y="616" width="12" height="18" fill="#9a9a9a"/><rect x="772" y="951" width="12" height="18" fill="#9a9a9a"/><rect x="885" y="212" width="12" height="24" fill="#333"/><rect x="1232" y="232" width="12" height="26" fill="#333"/><rect x="972" y="295" width="33" height="40" fill="#1d1d1d" rx="4"/><rect x="1025" y="290" width="87" height="50" fill="#54585c" rx="3"/><circle cx="1050" cy="304" r="6" fill="#e0702a"/><circle cx="1050" cy="322" r="6" fill="#e0a030"/><rect x="1070" y="300" width="38" height="38" fill="#2d3034"/><rect x="920" y="342" width="55" height="14" fill="#4caea2" rx="5"/><rect x="1075" y="342" width="55" height="10" fill="#4caea2" rx="5"/><path d="M912,364 L1118,364" fill="none" stroke="#d5d8d8" stroke-width="5"/><rect x="972" y="373" width="33" height="40" fill="#1d1d1d" rx="4"/><rect x="1025" y="368" width="87" height="50" fill="#54585c" rx="3"/><circle cx="1050" cy="382" r="6" fill="#e0702a"/><circle cx="1050" cy="400" r="6" fill="#e0a030"/><rect x="1070" y="378" width="38" height="38" fill="#2d3034"/><rect x="920" y="420" width="55" height="14" fill="#4caea2" rx="5"/><rect x="1075" y="420" width="55" height="10" fill="#4caea2" rx="5"/><path d="M912,442 L1118,442" fill="none" stroke="#d5d8d8" stroke-width="5"/><rect x="972" y="452" width="33" height="40" fill="#1d1d1d" rx="4"/><rect x="1025" y="447" width="87" height="50" fill="#54585c" rx="3"/><circle cx="1050" cy="461" r="6" fill="#e0702a"/><circle cx="1050" cy="479" r="6" fill="#e0a030"/><rect x="1070" y="457" width="38" height="38" fill="#2d3034"/><rect x="920" y="499" width="55" height="14" fill="#4caea2" rx="5"/><rect x="1075" y="499" width="55" height="10" fill="#4caea2" rx="5"/><path d="M912,521 L1118,521" fill="none" stroke="#d5d8d8" stroke-width="5"/><rect x="972" y="532" width="33" height="40" fill="#1d1d1d" rx="4"/><rect x="1025" y="527" width="87" height="50" fill="#54585c" rx="3"/><circle cx="1050" cy="541" r="6" fill="#e0702a"/><circle cx="1050" cy="559" r="6" fill="#e0a030"/><rect x="1070" y="537" width="38" height="38" fill="#2d3034"/><rect x="920" y="579" width="55" height="14" fill="#4caea2" rx="5"/><rect x="1075" y="579" width="55" height="10" fill="#4caea2" rx="5"/><path d="M912,601 L1118,601" fill="none" stroke="#d5d8d8" stroke-width="5"/><rect x="972" y="690" width="33" height="40" fill="#1d1d1d" rx="4"/><rect x="1025" y="685" width="87" height="50" fill="#54585c" rx="3"/><circle cx="1050" cy="699" r="6" fill="#e0702a"/><circle cx="1050" cy="717" r="6" fill="#e0a030"/><rect x="1070" y="695" width="38" height="38" fill="#2d3034"/><rect x="920" y="737" width="55" height="14" fill="#4caea2" rx="5"/><rect x="1075" y="737" width="55" height="10" fill="#4caea2" rx="5"/><path d="M912,759 L1118,759" fill="none" stroke="#d5d8d8" stroke-width="5"/><rect x="972" y="930" width="33" height="40" fill="#1d1d1d" rx="4"/><rect x="1025" y="925" width="87" height="50" fill="#54585c" rx="3"/><circle cx="1050" cy="939" r="6" fill="#e0702a"/><circle cx="1050" cy="957" r="6" fill="#e0a030"/><rect x="1070" y="935" width="38" height="38" fill="#2d3034"/><rect x="920" y="977" width="55" height="14" fill="#4caea2" rx="5"/><rect x="1075" y="977" width="55" height="10" fill="#4caea2" rx="5"/><path d="M912,999 L1118,999" fill="none" stroke="#d5d8d8" stroke-width="5"/><rect x="1128" y="302" width="14" height="16" fill="#aaa"/><rect x="1128" y="617" width="14" height="16" fill="#aaa"/><rect x="1128" y="932" width="14" height="16" fill="#aaa"/></svg>
<svg class="pr" style="left:683px;top:170px" width="70" height="100" viewBox="0 0 1070 1528" preserveAspectRatio="none"><defs><linearGradient id="mcs" x1="0" y1="0" x2="1" y2="0"><stop offset="0" stop-color="#8f9191"/><stop offset="0.5" stop-color="#b9bbbb"/><stop offset="1" stop-color="#d0d2d2"/></linearGradient></defs><defs><linearGradient id="mcf" x1="0" y1="0" x2="0" y2="1"><stop offset="0" stop-color="#f7f8f8"/><stop offset="1" stop-color="#ebecec"/></linearGradient></defs><polygon points="262,180 385,120 380,1450 262,1400" fill="url(#mcs)"/><polygon points="385,130 820,155 815,1400 380,1450" fill="url(#mcf)"/><path d="M325,152 L400,108 L770,132" fill="none" stroke="#2b2b2b" stroke-width="14" stroke-linejoin="round"/><polygon points="410,135 815,160 815,192 410,167" fill="#41a99d" stroke="#41a99d" stroke-width="7" stroke-linejoin="round"/><path d="M425,150 L540,157" fill="none" stroke="#d8f0ec" stroke-width="10"/><rect x="510" y="280" width="55" height="55" fill="#fff" rx="8" stroke="#4a4a4a" stroke-width="10"/><rect x="600" y="285" width="55" height="55" fill="#fff" rx="8" stroke="#4a4a4a" stroke-width="10"/><rect x="680" y="290" width="55" height="55" fill="#fff" rx="8" stroke="#4a4a4a" stroke-width="10"/><polygon points="390,398 815,410 815,442 390,432" fill="#c9cccc" stroke="#c9cccc" stroke-width="7" stroke-linejoin="round"/><path d="M395,402 L815,414" fill="none" stroke="#f4f4f4" stroke-width="8"/><rect x="396" y="440" width="94" height="16" fill="#5cbcb0"/><circle cx="585" cy="525" r="12" fill="#e89048"/><circle cx="630" cy="525" r="12" fill="#e89048"/><circle cx="585" cy="575" r="12" fill="#d8623a"/><circle cx="630" cy="575" r="12" fill="#3aa8a0"/><path d="M585,505 L585,595 M630,505 L630,595" fill="none" stroke="#dddddd" stroke-width="6"/><ellipse cx="405" cy="840" rx="9" ry="16" fill="#555"/><ellipse cx="405" cy="285" rx="8" ry="14" fill="#555"/><polygon points="262,1250 380,1290 815,1265 815,1400 380,1450 262,1400" fill="#41a99d" stroke="#41a99d" stroke-width="7" stroke-linejoin="round"/><polygon points="380,1290 815,1265 815,1400 380,1450" fill="#55b3a8" stroke="#55b3a8" stroke-width="7" stroke-linejoin="round"/><path d="M490,1340 L720,1328" fill="none" stroke="#2f7e76" stroke-width="22" stroke-dasharray="60 20 90 20"/><path d="M300,1310 L340,1345" fill="none" stroke="#d8f0ec" stroke-width="16"/><path d="M262,1400 L380,1450 L815,1400" fill="none" stroke="#e3e5e5" stroke-width="14"/></svg>
<svg class="pr" style="left:350px;top:430px" width="60" height="64" viewBox="0 0 1350 1440" preserveAspectRatio="none"><defs><linearGradient id="hxs" x1="0" y1="0" x2="1" y2="0"><stop offset="0" stop-color="#c6d0d0"/><stop offset="1" stop-color="#d5dddd"/></linearGradient></defs><polygon points="430,260 560,150 560,1340 430,1180" fill="url(#hxs)"/><polygon points="560,215 945,225 940,1300 560,1340" fill="#dde4e3" stroke="#dde4e3" stroke-width="7" stroke-linejoin="round"/><polygon points="560,150 945,160 945,225 560,215" fill="#c56a3c" stroke="#c56a3c" stroke-width="7" stroke-linejoin="round"/><circle cx="740" cy="195" r="12" fill="#f2c14a"/><circle cx="790" cy="195" r="12" fill="#f2c14a"/><circle cx="840" cy="195" r="12" fill="#f2c14a"/><circle cx="890" cy="195" r="12" fill="#f2c14a"/><rect x="700" y="170" width="30" height="30" fill="#3a2a20"/><rect x="572" y="228" width="353" height="34" fill="#eef1f0"/><path d="M462,342 L528,290" fill="none" stroke="#50565a" stroke-width="28" stroke-linecap="round"/><path d="M570,482 L940,490" fill="none" stroke="#9aa0a0" stroke-width="12"/><rect x="588" y="430" width="80" height="56" fill="#e2a932" rx="10"/><rect x="725" y="340" width="37" height="112" fill="#7a8088" rx="4"/><rect x="770" y="380" width="32" height="72" fill="#c8cfd2" rx="4"/><rect x="735" y="345" width="25" height="20" fill="#3a4a9a"/><circle cx="618" cy="576" r="14" fill="#e8b030"/><circle cx="628" cy="616" r="14" fill="#3a6a78"/><rect x="595" y="680" width="72" height="262" fill="#8b9090" rx="6"/><path d="M630,700 L630,930" fill="none" stroke="#6a6f6f" stroke-width="10"/><path d="M612,760 L650,760 M612,860 L650,860" fill="none" stroke="#c88a4a" stroke-width="10"/><rect x="728" y="585" width="124" height="87" fill="#c4cbcb" rx="30"/><rect x="738" y="598" width="104" height="60" fill="#757a7a" rx="24"/><rect x="728" y="990" width="124" height="87" fill="#c4cbcb" rx="30"/><rect x="738" y="1003" width="104" height="60" fill="#757a7a" rx="24"/><rect x="755" y="745" width="57" height="97" fill="#f4f6f6" rx="6"/><circle cx="870" cy="1205" r="12" fill="#e8894a"/><polygon points="560,1300 940,1262 940,1300 560,1340" fill="#b9c0c0" stroke="#b9c0c0" stroke-width="7" stroke-linejoin="round"/><rect x="592" y="318" width="12" height="30" fill="#8aa0b0"/><rect x="592" y="1230" width="12" height="32" fill="#a0b0b8"/></svg>
<svg class="pr" style="left:350px;top:544px" width="60" height="68" viewBox="0 0 1348 1528" preserveAspectRatio="none"><defs><linearGradient id="kys" x1="0" y1="0" x2="0.6" y2="1"><stop offset="0" stop-color="#dcdede"/><stop offset="0.45" stop-color="#c4c6c8"/><stop offset="1" stop-color="#94979a"/></linearGradient></defs><polygon points="250,420 660,200 680,1390 290,1090" fill="url(#kys)"/><polygon points="660,200 1080,320 1060,1290 680,1390" fill="#d6dcd8" stroke="#d6dcd8" stroke-width="7" stroke-linejoin="round"/><polygon points="650,150 690,138 1102,288 1082,332 650,202" fill="#2fa79a" stroke="#2fa79a" stroke-width="7" stroke-linejoin="round"/><path d="M700,175 L1080,312" fill="none" stroke="#1c5d56" stroke-width="16" stroke-dasharray="30 40"/><path d="M682,230 L690,1380" fill="none" stroke="#eef0ee" stroke-width="30"/><circle cx="683" cy="245" r="15" fill="#3c4044"/><circle cx="683" cy="375" r="15" fill="#3c4044"/><circle cx="683" cy="500" r="15" fill="#3c4044"/><circle cx="683" cy="585" r="15" fill="#3c4044"/><circle cx="683" cy="745" r="15" fill="#3c4044"/><circle cx="683" cy="900" r="15" fill="#3c4044"/><circle cx="683" cy="1050" r="15" fill="#3c4044"/><circle cx="683" cy="1200" r="15" fill="#3c4044"/><circle cx="683" cy="1350" r="15" fill="#3c4044"/><rect x="740" y="300" width="62" height="46" fill="#24282c" rx="6"/><rect x="725" y="420" width="40" height="75" fill="#3a4046" rx="4"/><rect x="772" y="430" width="30" height="65" fill="#4a5056" rx="4"/><circle cx="845" cy="470" r="14" fill="#566a88"/><rect x="922" y="405" width="20" height="87" fill="#3a4046" rx="6"/><rect x="828" y="560" width="164" height="42" fill="#35aa9d" rx="4"/><rect x="745" y="610" width="37" height="62" fill="#c9c3b0" rx="4"/><rect x="880" y="815" width="62" height="127" fill="#9b9ea0" rx="4"/><polygon points="880,1030 1000,1000 1000,1052 880,1082" fill="#1d2023" stroke="#1d2023" stroke-width="7" stroke-linejoin="round"/><rect x="880" y="1160" width="62" height="62" fill="#a3a6a8" rx="4"/><rect x="322" y="415" width="80" height="65" fill="#3b3f43" rx="10"/><rect x="320" y="610" width="27" height="52" fill="#4a4e52" rx="6"/><circle cx="570" cy="505" r="13" fill="#3c4044"/><path d="M520,230 L520,285 M575,240 L575,280" fill="none" stroke="#eceeee" stroke-width="16"/><ellipse cx="1068" cy="560" rx="8" ry="30" fill="#aab0ae"/><ellipse cx="1062" cy="910" rx="8" ry="30" fill="#aab0ae"/></svg>
<svg class="pr" style="left:446px;top:974px" width="70" height="80" viewBox="0 0 1337 1528" preserveAspectRatio="none"><defs><linearGradient id="cbf" x1="0" y1="0" x2="1" y2="0"><stop offset="0" stop-color="#dfe1e3"/><stop offset="0.5" stop-color="#eaecee"/><stop offset="1" stop-color="#dcdee0"/></linearGradient></defs><polygon points="220,260 290,235 290,1400 225,1290" fill="#cfd2d4" stroke="#cfd2d4" stroke-width="7" stroke-linejoin="round"/><polygon points="280,240 1080,290 1070,1290 285,1410" fill="url(#cbf)"/><polygon points="215,130 1145,215 1085,290 270,225 195,300" fill="#f1f2f2" stroke="#f1f2f2" stroke-width="7" stroke-linejoin="round"/><path d="M200,295 L262,205 L1085,275" fill="none" stroke="#777b7d" stroke-width="30" stroke-linejoin="round"/><polygon points="705,425 825,675 590,675" fill="#f4f4f4" stroke="#24272a" stroke-width="20" stroke-linejoin="round"/><path d="M715,500 L690,585 L722,585 L700,655" fill="none" stroke="#24272a" stroke-width="16"/><path d="M600,710 L800,710" fill="none" stroke="#b0b4b6" stroke-width="10"/><text x="698" y="893" font-family="'Liberation Sans','Noto Sans CJK SC',sans-serif" font-size="76" fill="#5c6063" text-anchor="middle">交流汇流箱</text><ellipse cx="1025" cy="482" rx="28" ry="42" fill="#3a3d40"/><ellipse cx="1025" cy="1100" rx="28" ry="40" fill="#3a3d40"/><ellipse cx="291" cy="405" rx="10" ry="32" fill="#8a8d90"/><ellipse cx="291" cy="1215" rx="10" ry="32" fill="#8a8d90"/><polygon points="670,1185 770,1172 770,1250 670,1262" fill="#2f3235" stroke="#2f3235" stroke-width="7" stroke-linejoin="round"/></svg>
<svg class="pr" style="left:654px;top:978px" width="62" height="86" viewBox="0 0 1102 1528" preserveAspectRatio="none"><defs><linearGradient id="gpf" x1="0" y1="0" x2="0" y2="1"><stop offset="0" stop-color="#e6e8ea"/><stop offset="0.55" stop-color="#d9dce0"/><stop offset="1" stop-color="#c6cad0"/></linearGradient></defs><rect x="290" y="125" width="520" height="1300" fill="url(#gpf)"/><path d="M345,100 L345,128 M750,100 L750,128" fill="none" stroke="#cfd2d5" stroke-width="14"/><path d="M290,132 L810,132" fill="none" stroke="#f4f5f6" stroke-width="14"/><path d="M295,485 L805,485 M295,778 L805,778" fill="none" stroke="#b9bdc2" stroke-width="12"/><rect x="365" y="535" width="360" height="210" fill="#c9d0d8" rx="8" stroke="#aeb3b9" stroke-width="10"/><rect x="455" y="560" width="85" height="130" fill="#e4e8ec"/><rect x="600" y="560" width="90" height="130" fill="#e4e8ec"/><path d="M575,560 L560,700 M580,600 L610,700" fill="none" stroke="#6a8ab0" stroke-width="8"/><rect x="515" y="695" width="125" height="30" fill="#9fb8b4"/><rect x="385" y="710" width="25" height="25" fill="#6a7a8a"/><rect x="395" y="235" width="65" height="60" fill="#f2f2f2" rx="6"/><rect x="405" y="245" width="45" height="30" fill="#4a3a30"/><circle cx="540" cy="265" r="13" fill="#eab040"/><circle cx="595" cy="265" r="13" fill="#4a9ab0"/><circle cx="645" cy="265" r="13" fill="#a8604a"/><circle cx="560" cy="378" r="9" fill="#9a8a6a"/><circle cx="525" cy="838" r="12" fill="#8a5a40"/><circle cx="575" cy="838" r="12" fill="#4aa0a8"/><circle cx="525" cy="888" r="12" fill="#4aa0a8"/><circle cx="575" cy="888" r="12" fill="#d89040"/><ellipse cx="770" cy="315" rx="12" ry="24" fill="#24282c"/><ellipse cx="770" cy="1095" rx="12" ry="24" fill="#24282c"/><path d="M375,1305 L710,1305 M375,1332 L710,1332 M375,1358 L710,1358" fill="none" stroke="#b4b9c1" stroke-width="12" stroke-dasharray="30 12"/><rect x="300" y="1385" width="510" height="40" fill="#b4b8c0"/></svg>
<svg class="pr" style="left:350px;top:316px" width="60" height="54" viewBox="0 0 1350 1215" preserveAspectRatio="none"><polygon points="400,250 520,350 520,1085 215,995 400,885" fill="#14181a" stroke="#14181a" stroke-width="7" stroke-linejoin="round"/><polygon points="445,140 1190,180 1200,1005 520,1085 445,1000" fill="#1d2123" stroke="#1d2123" stroke-width="7" stroke-linejoin="round"/><polygon points="420,135 1205,165 1200,200 440,170" fill="#101214" stroke="#101214" stroke-width="7" stroke-linejoin="round"/><rect x="520" y="380" width="202" height="620" fill="#2f3537"/><rect x="1000" y="400" width="190" height="592" fill="#2c3234"/><rect x="730" y="400" width="270" height="600" fill="#1a1e20"/><ellipse cx="780" cy="280" rx="100" ry="88" fill="none" stroke="#4c4f50" stroke-width="16"/><ellipse cx="920" cy="260" rx="70" ry="60" fill="#0d0f10"/><ellipse cx="1080" cy="290" rx="80" ry="70" fill="#0d0f10"/><rect x="745" y="428" width="220" height="38" fill="#7a4420"/><circle cx="870" cy="520" r="17" fill="#30c4b6"/><rect x="905" y="498" width="40" height="47" fill="#a85a2a" rx="8"/><rect x="770" y="620" width="38" height="35" fill="#b5702d"/><rect x="855" y="650" width="65" height="22" fill="#5a5f62"/><rect x="962" y="590" width="30" height="310" fill="#b8642e" rx="10"/><rect x="810" y="905" width="85" height="35" fill="#4a4f52"/><rect x="310" y="260" width="92" height="640" fill="#5f2a12" rx="20"/><rect x="340" y="300" width="20" height="520" fill="#9a5024" rx="10"/><ellipse cx="225" cy="290" rx="72" ry="55" fill="#5a2610"/><ellipse cx="225" cy="650" rx="72" ry="55" fill="#5a2610"/><rect x="225" y="250" width="115" height="80" fill="#642c13"/><rect x="225" y="610" width="115" height="80" fill="#642c13"/><polygon points="170,810 290,860 330,960 180,960" fill="#0d0f10" stroke="#0d0f10" stroke-width="7" stroke-linejoin="round"/><polygon points="210,1000 520,1085 1210,1000 1210,1040 520,1125 210,1035" fill="#25282a" stroke="#25282a" stroke-width="7" stroke-linejoin="round"/><polygon points="450,1085 1100,1040 1100,1065 470,1110" fill="#7d7f80" stroke="#7d7f80" stroke-width="7" stroke-linejoin="round"/></svg>
<svg class="pr" style="left:550px;top:314px" width="56" height="58" viewBox="0 0 1350 1398" preserveAspectRatio="none"><polygon points="175,170 420,330 440,1140 280,1150 180,1020" fill="#5b5c5d" stroke="#5b5c5d" stroke-width="7" stroke-linejoin="round"/><polygon points="175,170 820,140 1090,250 1060,330 420,330" fill="#4d5357" stroke="#4d5357" stroke-width="7" stroke-linejoin="round"/><polygon points="400,330 1060,320 1090,500 430,500" fill="#46505b" stroke="#46505b" stroke-width="7" stroke-linejoin="round"/><rect x="440" y="250" width="65" height="60" fill="#1c1f22" rx="10"/><polygon points="440,500 1110,470 1130,1060 450,1110" fill="#5a6679" stroke="#5a6679" stroke-width="7" stroke-linejoin="round"/><rect x="510" y="555" width="172" height="527" fill="#2b2f37" rx="10"/><rect x="545" y="675" width="107" height="52" fill="#34b86a" rx="6"/><rect x="560" y="690" width="30" height="25" fill="#2a5ad0"/><circle cx="590" cy="615" r="18" fill="#c8702a"/><rect x="640" y="560" width="32" height="40" fill="#9098a0"/><rect x="535" y="880" width="122" height="182" fill="#8890a0" rx="6"/><rect x="540" y="745" width="110" height="115" fill="#3a3f48"/><rect x="700" y="540" width="215" height="532" fill="#5b6880"/><circle cx="760" cy="730" r="21" fill="#cc6228"/><rect x="838" y="690" width="47" height="52" fill="#2fb890" rx="6"/><rect x="720" y="800" width="52" height="42" fill="#7a828e"/><rect x="820" y="790" width="72" height="42" fill="#15171a" rx="14"/><rect x="840" y="798" width="35" height="26" fill="#e6e6e6" rx="8"/><rect x="920" y="570" width="72" height="152" fill="#2b2f37" rx="8"/><rect x="915" y="540" width="20" height="520" fill="#1c1f24"/><rect x="980" y="790" width="112" height="262" fill="#6a768a" rx="6"/><rect x="1010" y="795" width="52" height="32" fill="#2fb890"/><rect x="1010" y="850" width="65" height="180" fill="#8a94a4"/><polygon points="1110,470 1140,490 1150,1050 1130,1060" fill="#3a4048" stroke="#3a4048" stroke-width="7" stroke-linejoin="round"/><polygon points="440,1110 1130,1060 1130,1102 450,1152" fill="#0f1012" stroke="#0f1012" stroke-width="7" stroke-linejoin="round"/><polygon points="450,1150 1080,1100 1080,1262 470,1282" fill="#4a5562" stroke="#4a5562" stroke-width="7" stroke-linejoin="round"/><path d="M650,1200 L800,1190" fill="none" stroke="#15171a" stroke-width="30" stroke-dasharray="40 25"/><ellipse cx="345" cy="640" rx="22" ry="45" fill="#1c1e20"/><ellipse cx="345" cy="740" rx="22" ry="45" fill="#1c1e20"/><polygon points="280,1150 440,1140 450,1260 340,1230" fill="#c9c9c7" stroke="#c9c9c7" stroke-width="7" stroke-linejoin="round"/></svg>
<svg class="pr" style="left:758.6px;top:314.3px" width="56.0" height="58.0" viewBox="0 0 1350 1398" preserveAspectRatio="none"><polygon points="175,170 420,330 440,1140 280,1150 180,1020" fill="#5b5c5d" stroke="#5b5c5d" stroke-width="7" stroke-linejoin="round"/><polygon points="175,170 820,140 1090,250 1060,330 420,330" fill="#4d5357" stroke="#4d5357" stroke-width="7" stroke-linejoin="round"/><polygon points="400,330 1060,320 1090,500 430,500" fill="#46505b" stroke="#46505b" stroke-width="7" stroke-linejoin="round"/><rect x="440" y="250" width="65" height="60" fill="#1c1f22" rx="10"/><polygon points="440,500 1110,470 1130,1060 450,1110" fill="#5a6679" stroke="#5a6679" stroke-width="7" stroke-linejoin="round"/><rect x="510" y="555" width="172" height="527" fill="#2b2f37" rx="10"/><rect x="545" y="675" width="107" height="52" fill="#34b86a" rx="6"/><rect x="560" y="690" width="30" height="25" fill="#2a5ad0"/><circle cx="590" cy="615" r="18" fill="#c8702a"/><rect x="640" y="560" width="32" height="40" fill="#9098a0"/><rect x="535" y="880" width="122" height="182" fill="#8890a0" rx="6"/><rect x="540" y="745" width="110" height="115" fill="#3a3f48"/><rect x="700" y="540" width="215" height="532" fill="#5b6880"/><circle cx="760" cy="730" r="21" fill="#cc6228"/><rect x="838" y="690" width="47" height="52" fill="#2fb890" rx="6"/><rect x="720" y="800" width="52" height="42" fill="#7a828e"/><rect x="820" y="790" width="72" height="42" fill="#15171a" rx="14"/><rect x="840" y="798" width="35" height="26" fill="#e6e6e6" rx="8"/><rect x="920" y="570" width="72" height="152" fill="#2b2f37" rx="8"/><rect x="915" y="540" width="20" height="520" fill="#1c1f24"/><rect x="980" y="790" width="112" height="262" fill="#6a768a" rx="6"/><rect x="1010" y="795" width="52" height="32" fill="#2fb890"/><rect x="1010" y="850" width="65" height="180" fill="#8a94a4"/><polygon points="1110,470 1140,490 1150,1050 1130,1060" fill="#3a4048" stroke="#3a4048" stroke-width="7" stroke-linejoin="round"/><polygon points="440,1110 1130,1060 1130,1102 450,1152" fill="#0f1012" stroke="#0f1012" stroke-width="7" stroke-linejoin="round"/><polygon points="450,1150 1080,1100 1080,1262 470,1282" fill="#4a5562" stroke="#4a5562" stroke-width="7" stroke-linejoin="round"/><path d="M650,1200 L800,1190" fill="none" stroke="#15171a" stroke-width="30" stroke-dasharray="40 25"/><ellipse cx="345" cy="640" rx="22" ry="45" fill="#1c1e20"/><ellipse cx="345" cy="740" rx="22" ry="45" fill="#1c1e20"/><polygon points="280,1150 440,1140 450,1260 340,1230" fill="#c9c9c7" stroke="#c9c9c7" stroke-width="7" stroke-linejoin="round"/></svg>
<svg class="pr" style="left:552px;top:430px" width="54" height="66" viewBox="0 0 1250 1528" preserveAspectRatio="none"><polygon points="225,170 390,230 390,1360 230,1230" fill="#485460" stroke="#485460" stroke-width="7" stroke-linejoin="round"/><rect x="390" y="150" width="630" height="250" fill="#4d5966"/><polygon points="430,165 530,165 530,235 430,235" fill="#c3c8ce" stroke="#c3c8ce" stroke-width="7" stroke-linejoin="round"/><polygon points="420,245 540,245 540,340 420,340" fill="#5f6976" stroke="#5f6976" stroke-width="7" stroke-linejoin="round"/><polygon points="430,345 530,345 530,378 430,378" fill="#cfd3d7" stroke="#cfd3d7" stroke-width="7" stroke-linejoin="round"/><polygon points="610,165 760,165 760,235 610,235" fill="#c3c8ce" stroke="#c3c8ce" stroke-width="7" stroke-linejoin="round"/><polygon points="600,245 770,245 770,340 600,340" fill="#5f6976" stroke="#5f6976" stroke-width="7" stroke-linejoin="round"/><polygon points="610,345 760,345 760,378 610,378" fill="#cfd3d7" stroke="#cfd3d7" stroke-width="7" stroke-linejoin="round"/><polygon points="840,165 980,165 980,235 840,235" fill="#c3c8ce" stroke="#c3c8ce" stroke-width="7" stroke-linejoin="round"/><polygon points="830,245 990,245 990,340 830,340" fill="#5f6976" stroke="#5f6976" stroke-width="7" stroke-linejoin="round"/><polygon points="840,345 980,345 980,378 840,378" fill="#cfd3d7" stroke="#cfd3d7" stroke-width="7" stroke-linejoin="round"/><circle cx="580" cy="320" r="32" fill="#0c0d0f"/><circle cx="800" cy="300" r="32" fill="#0c0d0f"/><polygon points="390,390 1020,390 1032,1180 390,1180" fill="#56647a" stroke="#56647a" stroke-width="7" stroke-linejoin="round"/><polygon points="400,480 1030,470 1030,1010 400,1010" fill="#5a6a80" stroke="#5a6a80" stroke-width="7" stroke-linejoin="round"/><path d="M400,560 L1030,550" fill="none" stroke="#48546a" stroke-width="14"/><rect x="640" y="640" width="172" height="322" fill="#7a8898" rx="10"/><rect x="675" y="680" width="107" height="252" fill="#292d35" rx="6"/><rect x="700" y="760" width="70" height="40" fill="#5a6270"/><rect x="430" y="665" width="122" height="37" fill="#2fb89a" rx="4"/><circle cx="515" cy="684" r="13" fill="#2a4ad0"/><rect x="440" y="740" width="120" height="160" fill="#647286"/><rect x="900" y="680" width="92" height="82" fill="#d0d4d8" rx="6"/><rect x="905" y="780" width="80" height="80" fill="#7a8696"/><circle cx="432" cy="970" r="30" fill="#c85a20"/><rect x="395" y="1030" width="627" height="72" fill="#14171b" rx="4"/><rect x="470" y="1048" width="70" height="34" fill="#8a8e94"/><rect x="760" y="1045" width="200" height="40" fill="#5a5e64"/><polygon points="390,1180 1020,1180 1020,1290 960,1340 390,1360" fill="#505d6c" stroke="#505d6c" stroke-width="7" stroke-linejoin="round"/><polygon points="455,1250 540,1250 515,1400 455,1400" fill="#fff"/><polygon points="650,1240 770,1240 760,1400 660,1400" fill="#fff"/><polygon points="860,1240 1000,1230 1010,1400 850,1400" fill="#fff"/><polygon points="540,1200 650,1200 660,1400 510,1400" fill="#4a5664" stroke="#4a5664" stroke-width="7" stroke-linejoin="round"/><polygon points="770,1200 860,1200 850,1385 760,1395" fill="#4a5664" stroke="#4a5664" stroke-width="7" stroke-linejoin="round"/><circle cx="580" cy="1282" r="32" fill="#0c0d0f"/><circle cx="800" cy="1278" r="32" fill="#0c0d0f"/><rect x="398" y="505" width="22" height="30" fill="#e6e8ea"/><rect x="398" y="1130" width="22" height="35" fill="#e6e8ea"/><rect x="995" y="480" width="20" height="25" fill="#e6e8ea"/></svg>
<svg class="pr" style="left:760.5px;top:429.4px" width="54.0" height="66.0" viewBox="0 0 1250 1528" preserveAspectRatio="none"><polygon points="225,170 390,230 390,1360 230,1230" fill="#485460" stroke="#485460" stroke-width="7" stroke-linejoin="round"/><rect x="390" y="150" width="630" height="250" fill="#4d5966"/><polygon points="430,165 530,165 530,235 430,235" fill="#c3c8ce" stroke="#c3c8ce" stroke-width="7" stroke-linejoin="round"/><polygon points="420,245 540,245 540,340 420,340" fill="#5f6976" stroke="#5f6976" stroke-width="7" stroke-linejoin="round"/><polygon points="430,345 530,345 530,378 430,378" fill="#cfd3d7" stroke="#cfd3d7" stroke-width="7" stroke-linejoin="round"/><polygon points="610,165 760,165 760,235 610,235" fill="#c3c8ce" stroke="#c3c8ce" stroke-width="7" stroke-linejoin="round"/><polygon points="600,245 770,245 770,340 600,340" fill="#5f6976" stroke="#5f6976" stroke-width="7" stroke-linejoin="round"/><polygon points="610,345 760,345 760,378 610,378" fill="#cfd3d7" stroke="#cfd3d7" stroke-width="7" stroke-linejoin="round"/><polygon points="840,165 980,165 980,235 840,235" fill="#c3c8ce" stroke="#c3c8ce" stroke-width="7" stroke-linejoin="round"/><polygon points="830,245 990,245 990,340 830,340" fill="#5f6976" stroke="#5f6976" stroke-width="7" stroke-linejoin="round"/><polygon points="840,345 980,345 980,378 840,378" fill="#cfd3d7" stroke="#cfd3d7" stroke-width="7" stroke-linejoin="round"/><circle cx="580" cy="320" r="32" fill="#0c0d0f"/><circle cx="800" cy="300" r="32" fill="#0c0d0f"/><polygon points="390,390 1020,390 1032,1180 390,1180" fill="#56647a" stroke="#56647a" stroke-width="7" stroke-linejoin="round"/><polygon points="400,480 1030,470 1030,1010 400,1010" fill="#5a6a80" stroke="#5a6a80" stroke-width="7" stroke-linejoin="round"/><path d="M400,560 L1030,550" fill="none" stroke="#48546a" stroke-width="14"/><rect x="640" y="640" width="172" height="322" fill="#7a8898" rx="10"/><rect x="675" y="680" width="107" height="252" fill="#292d35" rx="6"/><rect x="700" y="760" width="70" height="40" fill="#5a6270"/><rect x="430" y="665" width="122" height="37" fill="#2fb89a" rx="4"/><circle cx="515" cy="684" r="13" fill="#2a4ad0"/><rect x="440" y="740" width="120" height="160" fill="#647286"/><rect x="900" y="680" width="92" height="82" fill="#d0d4d8" rx="6"/><rect x="905" y="780" width="80" height="80" fill="#7a8696"/><circle cx="432" cy="970" r="30" fill="#c85a20"/><rect x="395" y="1030" width="627" height="72" fill="#14171b" rx="4"/><rect x="470" y="1048" width="70" height="34" fill="#8a8e94"/><rect x="760" y="1045" width="200" height="40" fill="#5a5e64"/><polygon points="390,1180 1020,1180 1020,1290 960,1340 390,1360" fill="#505d6c" stroke="#505d6c" stroke-width="7" stroke-linejoin="round"/><polygon points="455,1250 540,1250 515,1400 455,1400" fill="#fff"/><polygon points="650,1240 770,1240 760,1400 660,1400" fill="#fff"/><polygon points="860,1240 1000,1230 1010,1400 850,1400" fill="#fff"/><polygon points="540,1200 650,1200 660,1400 510,1400" fill="#4a5664" stroke="#4a5664" stroke-width="7" stroke-linejoin="round"/><polygon points="770,1200 860,1200 850,1385 760,1395" fill="#4a5664" stroke="#4a5664" stroke-width="7" stroke-linejoin="round"/><circle cx="580" cy="1282" r="32" fill="#0c0d0f"/><circle cx="800" cy="1278" r="32" fill="#0c0d0f"/><rect x="398" y="505" width="22" height="30" fill="#e6e8ea"/><rect x="398" y="1130" width="22" height="35" fill="#e6e8ea"/><rect x="995" y="480" width="20" height="25" fill="#e6e8ea"/></svg>
<svg class="pr" style="left:760.5px;top:548.6px" width="54.0" height="66.0" viewBox="0 0 1250 1528" preserveAspectRatio="none"><polygon points="225,170 390,230 390,1360 230,1230" fill="#485460" stroke="#485460" stroke-width="7" stroke-linejoin="round"/><rect x="390" y="150" width="630" height="250" fill="#4d5966"/><polygon points="430,165 530,165 530,235 430,235" fill="#c3c8ce" stroke="#c3c8ce" stroke-width="7" stroke-linejoin="round"/><polygon points="420,245 540,245 540,340 420,340" fill="#5f6976" stroke="#5f6976" stroke-width="7" stroke-linejoin="round"/><polygon points="430,345 530,345 530,378 430,378" fill="#cfd3d7" stroke="#cfd3d7" stroke-width="7" stroke-linejoin="round"/><polygon points="610,165 760,165 760,235 610,235" fill="#c3c8ce" stroke="#c3c8ce" stroke-width="7" stroke-linejoin="round"/><polygon points="600,245 770,245 770,340 600,340" fill="#5f6976" stroke="#5f6976" stroke-width="7" stroke-linejoin="round"/><polygon points="610,345 760,345 760,378 610,378" fill="#cfd3d7" stroke="#cfd3d7" stroke-width="7" stroke-linejoin="round"/><polygon points="840,165 980,165 980,235 840,235" fill="#c3c8ce" stroke="#c3c8ce" stroke-width="7" stroke-linejoin="round"/><polygon points="830,245 990,245 990,340 830,340" fill="#5f6976" stroke="#5f6976" stroke-width="7" stroke-linejoin="round"/><polygon points="840,345 980,345 980,378 840,378" fill="#cfd3d7" stroke="#cfd3d7" stroke-width="7" stroke-linejoin="round"/><circle cx="580" cy="320" r="32" fill="#0c0d0f"/><circle cx="800" cy="300" r="32" fill="#0c0d0f"/><polygon points="390,390 1020,390 1032,1180 390,1180" fill="#56647a" stroke="#56647a" stroke-width="7" stroke-linejoin="round"/><polygon points="400,480 1030,470 1030,1010 400,1010" fill="#5a6a80" stroke="#5a6a80" stroke-width="7" stroke-linejoin="round"/><path d="M400,560 L1030,550" fill="none" stroke="#48546a" stroke-width="14"/><rect x="640" y="640" width="172" height="322" fill="#7a8898" rx="10"/><rect x="675" y="680" width="107" height="252" fill="#292d35" rx="6"/><rect x="700" y="760" width="70" height="40" fill="#5a6270"/><rect x="430" y="665" width="122" height="37" fill="#2fb89a" rx="4"/><circle cx="515" cy="684" r="13" fill="#2a4ad0"/><rect x="440" y="740" width="120" height="160" fill="#647286"/><rect x="900" y="680" width="92" height="82" fill="#d0d4d8" rx="6"/><rect x="905" y="780" width="80" height="80" fill="#7a8696"/><circle cx="432" cy="970" r="30" fill="#c85a20"/><rect x="395" y="1030" width="627" height="72" fill="#14171b" rx="4"/><rect x="470" y="1048" width="70" height="34" fill="#8a8e94"/><rect x="760" y="1045" width="200" height="40" fill="#5a5e64"/><polygon points="390,1180 1020,1180 1020,1290 960,1340 390,1360" fill="#505d6c" stroke="#505d6c" stroke-width="7" stroke-linejoin="round"/><polygon points="455,1250 540,1250 515,1400 455,1400" fill="#fff"/><polygon points="650,1240 770,1240 760,1400 660,1400" fill="#fff"/><polygon points="860,1240 1000,1230 1010,1400 850,1400" fill="#fff"/><polygon points="540,1200 650,1200 660,1400 510,1400" fill="#4a5664" stroke="#4a5664" stroke-width="7" stroke-linejoin="round"/><polygon points="770,1200 860,1200 850,1385 760,1395" fill="#4a5664" stroke="#4a5664" stroke-width="7" stroke-linejoin="round"/><circle cx="580" cy="1282" r="32" fill="#0c0d0f"/><circle cx="800" cy="1278" r="32" fill="#0c0d0f"/><rect x="398" y="505" width="22" height="30" fill="#e6e8ea"/><rect x="398" y="1130" width="22" height="35" fill="#e6e8ea"/><rect x="995" y="480" width="20" height="25" fill="#e6e8ea"/></svg>
<svg class="pr" style="left:550px;top:552px" width="60" height="56" viewBox="0 0 1350 1260" preserveAspectRatio="none"><polygon points="140,290 230,200 370,230 370,1110 200,1120 140,1020" fill="#4a4d52" stroke="#4a4d52" stroke-width="7" stroke-linejoin="round"/><rect x="305" y="330" width="40" height="190" fill="#1a1c1f"/><rect x="300" y="800" width="40" height="260" fill="#1a1c1f"/><polygon points="180,220 250,190 270,260 200,290" fill="#24272b" stroke="#24272b" stroke-width="7" stroke-linejoin="round"/><polygon points="160,1050 230,1040 240,1120 180,1125" fill="#24272b" stroke="#24272b" stroke-width="7" stroke-linejoin="round"/><rect x="360" y="170" width="870" height="962" fill="#3b3e43" rx="18"/><rect x="450" y="250" width="732" height="832" fill="#0b0c0f" rx="8"/><rect x="450" y="285" width="722" height="87" fill="#b0602a"/><rect x="450" y="285" width="190" height="87" fill="#6e3a1c"/><circle cx="705" cy="335" r="10" fill="#f2d890"/><circle cx="790" cy="335" r="10" fill="#f2d890"/><circle cx="870" cy="335" r="10" fill="#f2d890"/><circle cx="935" cy="335" r="10" fill="#f2d890"/><rect x="500" y="430" width="592" height="462" fill="#1a40b2" rx="8"/><rect x="740" y="440" width="272" height="442" fill="#4f82dc"/><path d="M760,500 L990,500 M760,610 L990,610 M760,720 L990,720 M760,830 L990,830" fill="none" stroke="#9bc0f2" stroke-width="40" stroke-dasharray="50 22"/><rect x="520" y="470" width="105" height="50" fill="#8fb4ee"/><rect x="640" y="910" width="452" height="62" fill="#a85a28"/><ellipse cx="700" cy="1012" rx="34" ry="38" fill="#d2d2d2"/><ellipse cx="820" cy="1012" rx="34" ry="38" fill="#d2d2d2"/><ellipse cx="930" cy="1012" rx="34" ry="38" fill="#d2d2d2"/><ellipse cx="1040" cy="1012" rx="34" ry="38" fill="#d2d2d2"/><path d="M682,1030 L718,995" fill="none" stroke="#3a3a3a" stroke-width="12"/><path d="M802,1030 L838,995" fill="none" stroke="#3a3a3a" stroke-width="12"/><path d="M912,1030 L948,995" fill="none" stroke="#3a3a3a" stroke-width="12"/><path d="M1022,1030 L1058,995" fill="none" stroke="#3a3a3a" stroke-width="12"/><ellipse cx="580" cy="1012" rx="20" ry="36" fill="#9a9ea4"/></svg>
<svg class="pr" style="left:842px;top:316px" width="68" height="56" viewBox="0 0 1350 1112" preserveAspectRatio="none"><rect x="290" y="160" width="72" height="115" fill="#c6cad4" rx="6"/><rect x="308" y="185" width="36" height="45" fill="#eef0f4"/><rect x="440" y="180" width="62" height="105" fill="#c6cad4" rx="6"/><rect x="458" y="205" width="26" height="35" fill="#eef0f4"/><rect x="580" y="195" width="72" height="100" fill="#c6cad4" rx="6"/><rect x="598" y="220" width="36" height="30" fill="#eef0f4"/><polygon points="790,200 890,205 895,360 800,370" fill="#8a6a30" stroke="#8a6a30" stroke-width="7" stroke-linejoin="round"/><rect x="820" y="300" width="50" height="45" fill="#3a8a80"/><polygon points="150,280 250,260 250,680 150,660" fill="#dad6d4" stroke="#dad6d4" stroke-width="7" stroke-linejoin="round"/><polygon points="250,260 770,300 770,682 250,682" fill="#ede9e7" stroke="#ede9e7" stroke-width="7" stroke-linejoin="round"/><path d="M262,322 L460,330 M540,348 L610,352 M262,640 L380,646 M400,655 L470,660" fill="none" stroke="#6a6a6a" stroke-width="26" stroke-dasharray="28 22"/><path d="M215,300 L215,660" fill="none" stroke="#c4c0be" stroke-width="16"/><rect x="338" y="428" width="194" height="130" fill="#3a2a20" rx="10"/><rect x="400" y="455" width="100" height="65" fill="#e6e0d8"/><rect x="350" y="470" width="50" height="70" fill="#b5622d"/><rect x="430" y="440" width="90" height="25" fill="#c8702d"/><polygon points="950,380 1062,385 1062,662 950,660" fill="#978c68" stroke="#978c68" stroke-width="7" stroke-linejoin="round"/><path d="M980,420 L1040,640" fill="none" stroke="#c8a040" stroke-width="30" stroke-dasharray="30 40"/><rect x="975" y="470" width="55" height="50" fill="#3a8a80"/><polygon points="620,380 940,400 950,722 620,702" fill="#15171a" stroke="#15171a" stroke-width="7" stroke-linejoin="round"/><rect x="680" y="440" width="140" height="80" fill="#6a3a20"/><path d="M600,625 L1125,955" fill="none" stroke="#1b1d21" stroke-width="118" stroke-linecap="round"/><path d="M740,690 L1130,925" fill="none" stroke="#4d5055" stroke-width="30" stroke-linecap="round"/><circle cx="640" cy="610" r="70" fill="#1b1d21"/><rect x="700" y="560" width="40" height="50" fill="#c9c9c9"/></svg>
<svg class="pr" style="left:846px;top:430px" width="60" height="64" viewBox="0 0 1350 1440" preserveAspectRatio="none"><polygon points="230,140 780,128 790,200 330,210 330,1150 240,1100" fill="#2c3036" stroke="#2c3036" stroke-width="7" stroke-linejoin="round"/><rect x="272" y="180" width="30" height="92" fill="#fff" rx="12"/><rect x="272" y="1010" width="30" height="82" fill="#fff" rx="12"/><polygon points="250,210 330,190 520,470 520,1320 430,1320 250,1100" fill="#3a424c" stroke="#3a424c" stroke-width="7" stroke-linejoin="round"/><polygon points="330,190 1020,200 1030,440 520,462" fill="#56637a" stroke="#56637a" stroke-width="7" stroke-linejoin="round"/><polygon points="520,450 1090,440 1100,1110 1030,1262 520,1302" fill="#4e5a6c" stroke="#4e5a6c" stroke-width="7" stroke-linejoin="round"/><polygon points="520,1130 1030,1120 1030,1262 520,1320 430,1320" fill="#465262" stroke="#465262" stroke-width="7" stroke-linejoin="round"/><circle cx="560" cy="370" r="46" fill="#0d0e10"/><circle cx="740" cy="360" r="46" fill="#0d0e10"/><circle cx="920" cy="350" r="46" fill="#0d0e10"/><ellipse cx="560" cy="1215" rx="46" ry="38" fill="#0d0e10"/><ellipse cx="740" cy="1205" rx="46" ry="38" fill="#0d0e10"/><ellipse cx="925" cy="1195" rx="46" ry="38" fill="#0d0e10"/><circle cx="740" cy="550" r="36" fill="#1c1f24"/><path d="M724,562 L756,538" fill="none" stroke="#c9ccd0" stroke-width="12"/><circle cx="880" cy="545" r="36" fill="#1c1f24"/><path d="M864,557 L896,533" fill="none" stroke="#c9ccd0" stroke-width="12"/><circle cx="1025" cy="540" r="36" fill="#1c1f24"/><path d="M1009,552 L1041,528" fill="none" stroke="#c9ccd0" stroke-width="12"/><circle cx="740" cy="1075" r="36" fill="#1c1f24"/><path d="M724,1087 L756,1063" fill="none" stroke="#c9ccd0" stroke-width="12"/><circle cx="880" cy="1075" r="36" fill="#1c1f24"/><path d="M864,1087 L896,1063" fill="none" stroke="#c9ccd0" stroke-width="12"/><circle cx="1010" cy="1070" r="36" fill="#1c1f24"/><path d="M994,1082 L1026,1058" fill="none" stroke="#c9ccd0" stroke-width="12"/><rect x="720" y="630" width="227" height="52" fill="#2fb89a" rx="6"/><rect x="545" y="650" width="122" height="372" fill="#465264" rx="40" stroke="#2c323a" stroke-width="16"/><rect x="690" y="620" width="290" height="400" fill="none" rx="30" stroke="#2c323a" stroke-width="16"/><rect x="710" y="770" width="105" height="122" fill="#3a3d42"/><rect x="840" y="770" width="102" height="122" fill="#3a3d42"/><rect x="700" y="920" width="250" height="80" fill="#5a6678" rx="20"/><rect x="1010" y="630" width="42" height="62" fill="#dfe2e4" rx="8"/><rect x="565" y="590" width="75" height="35" fill="#c9ccd0"/><rect x="570" y="800" width="60" height="50" fill="#8a94a2"/><path d="M320,640 L380,720" fill="none" stroke="#2fb89a" stroke-width="18"/><circle cx="440" cy="510" r="10" fill="#2fb89a"/></svg>
<svg class="pr" style="left:850px;top:554px" width="52" height="58" viewBox="0 0 1350 1506" preserveAspectRatio="none"><polygon points="290,270 360,170 830,170 930,260 930,340 590,340 590,1180 450,1300 290,1260" fill="#7e8a98" stroke="#7e8a98" stroke-width="7" stroke-linejoin="round"/><polygon points="290,270 450,300 450,1300 290,1260" fill="#8793a1" stroke="#8793a1" stroke-width="7" stroke-linejoin="round"/><polygon points="450,300 590,330 590,1190 450,1300" fill="#73808f" stroke="#73808f" stroke-width="7" stroke-linejoin="round"/><circle cx="520" cy="200" r="22" fill="#2c323a"/><circle cx="630" cy="200" r="22" fill="#2c323a"/><circle cx="750" cy="200" r="22" fill="#2c323a"/><circle cx="710" cy="275" r="22" fill="#2c323a"/><circle cx="870" cy="275" r="22" fill="#2c323a"/><circle cx="560" cy="270" r="22" fill="#2c323a"/><polygon points="590,320 1050,340 1050,1130 1000,1180 590,1180" fill="#6d7b8d" stroke="#6d7b8d" stroke-width="7" stroke-linejoin="round"/><rect x="640" y="490" width="362" height="492" fill="#7d8a9b" rx="20" stroke="#56616f" stroke-width="14"/><rect x="690" y="540" width="292" height="182" fill="#394048" rx="16"/><rect x="730" y="580" width="172" height="122" fill="#b9d5d9"/><circle cx="745" cy="635" r="12" fill="#3a6ad8"/><circle cx="845" cy="660" r="12" fill="#3a6ad8"/><circle cx="790" cy="705" r="12" fill="#3a6ad8"/><circle cx="845" cy="705" r="12" fill="#3a6ad8"/><rect x="680" y="760" width="292" height="182" fill="#c9d1d9" rx="10"/><rect x="715" y="855" width="67" height="67" fill="#5ec8b0" rx="8"/><rect x="808" y="868" width="44" height="44" fill="#4a6ab0" rx="6"/><rect x="888" y="868" width="54" height="44" fill="#e0a030" rx="6"/><rect x="715" y="785" width="60" height="50" fill="#a9b5c1"/><rect x="808" y="785" width="44" height="50" fill="#6a8ab8"/><rect x="888" y="785" width="54" height="50" fill="#b9c3cd"/><circle cx="640" cy="690" r="32" fill="#22262b"/><circle cx="1002" cy="620" r="32" fill="#22262b"/><rect x="470" y="410" width="92" height="42" fill="#e8f0f0" rx="8"/><rect x="395" y="800" width="20" height="160" fill="#3a424c"/><polygon points="450,1190 1000,1180 1000,1270 900,1300 450,1300" fill="#292d35" stroke="#292d35" stroke-width="7" stroke-linejoin="round"/><circle cx="610" cy="1260" r="14" fill="#2a5ad8"/></svg>
<svg class="pr" style="left:322px;top:1070px" width="56" height="72" viewBox="0 0 1188 1528" preserveAspectRatio="none"><polygon points="260,640 480,520 890,480 960,650 700,800 230,770" fill="#dbd9d7" stroke="#dbd9d7" stroke-width="7" stroke-linejoin="round"/><polygon points="230,770 700,800 820,1410 350,1200" fill="#8f939d" stroke="#8f939d" stroke-width="7" stroke-linejoin="round"/><polygon points="700,800 960,650 950,1180 820,1410" fill="#656d7b" stroke="#656d7b" stroke-width="7" stroke-linejoin="round"/><polygon points="720,900 860,700 905,722 800,950" fill="#d9d5d1" stroke="#d9d5d1" stroke-width="7" stroke-linejoin="round"/><polygon points="770,560 880,490 890,520 800,590" fill="#9fd8d0" stroke="#9fd8d0" stroke-width="7" stroke-linejoin="round"/><path d="M300,900 L740,1010 M320,1040 L770,1170 M345,1150 L790,1300" fill="none" stroke="#8890a0" stroke-width="14" stroke-dasharray="40 30"/><path d="M850,1000 L850,1250 M930,950 L925,1180" fill="none" stroke="#4a6ab8" stroke-width="20" stroke-dasharray="30 50"/><rect x="510" y="510" width="132" height="102" fill="#565a5e" rx="20"/><polygon points="360,190 520,150 860,230 890,380 700,470 620,522 420,502 340,420" fill="#1f2a30" stroke="#1f2a30" stroke-width="7" stroke-linejoin="round"/><polygon points="520,150 860,230 850,260 520,190" fill="#5a7a7a" stroke="#5a7a7a" stroke-width="7" stroke-linejoin="round"/><circle cx="390" cy="220" r="11" fill="#1f4ad0"/><circle cx="435" cy="245" r="11" fill="#1f4ad0"/><circle cx="500" cy="265" r="11" fill="#1f4ad0"/><circle cx="560" cy="265" r="11" fill="#1f4ad0"/><circle cx="605" cy="285" r="11" fill="#1f4ad0"/><circle cx="415" cy="300" r="11" fill="#1f4ad0"/><circle cx="455" cy="285" r="11" fill="#1f4ad0"/><circle cx="520" cy="308" r="11" fill="#1f4ad0"/><circle cx="690" cy="328" r="11" fill="#1f4ad0"/><circle cx="795" cy="350" r="11" fill="#1f4ad0"/><circle cx="415" cy="350" r="11" fill="#1f4ad0"/><circle cx="480" cy="350" r="11" fill="#1f4ad0"/><circle cx="605" cy="348" r="11" fill="#1f4ad0"/><circle cx="390" cy="395" r="11" fill="#1f4ad0"/><circle cx="455" cy="392" r="11" fill="#1f4ad0"/><circle cx="520" cy="372" r="11" fill="#1f4ad0"/><circle cx="735" cy="392" r="11" fill="#1f4ad0"/><circle cx="565" cy="435" r="11" fill="#1f4ad0"/><circle cx="670" cy="458" r="11" fill="#1f4ad0"/></svg>
<svg class="pr" style="left:518px;top:1102px" width="56" height="60" viewBox="0 0 1350 1446" preserveAspectRatio="none"><defs><linearGradient id="m4b" x1="0" y1="0" x2="0" y2="1"><stop offset="0" stop-color="#74787c"/><stop offset="0.55" stop-color="#54575b"/><stop offset="1" stop-color="#26282c"/></linearGradient></defs><defs><linearGradient id="m4s" x1="0" y1="0" x2="0" y2="1"><stop offset="0" stop-color="#606367"/><stop offset="1" stop-color="#2c2e31"/></linearGradient></defs><polygon points="225,180 560,145 1060,165 1080,380 1130,400 1130,960 1070,1000 1070,1150 400,1300 230,1140" fill="url(#m4b)"/><polygon points="225,180 400,240 400,1300 230,1140" fill="url(#m4s)"/><rect x="430" y="180" width="110" height="240" fill="#8a8d91"/><rect x="610" y="180" width="110" height="240" fill="#8a8d91"/><rect x="790" y="180" width="105" height="240" fill="#8a8d91"/><rect x="950" y="180" width="100" height="240" fill="#8a8d91"/><circle cx="560" cy="280" r="26" fill="#131517"/><circle cx="735" cy="280" r="26" fill="#131517"/><circle cx="905" cy="275" r="26" fill="#131517"/><circle cx="560" cy="375" r="26" fill="#131517"/><circle cx="735" cy="370" r="26" fill="#131517"/><circle cx="905" cy="365" r="26" fill="#131517"/><circle cx="995" cy="330" r="26" fill="#131517"/><circle cx="390" cy="380" r="26" fill="#131517"/><circle cx="470" cy="345" r="26" fill="#131517"/><polygon points="430,500 1130,480 1130,520 430,545" fill="#3db8a8" stroke="#3db8a8" stroke-width="7" stroke-linejoin="round"/><rect x="440" y="560" width="172" height="242" fill="#8a8e92" rx="6"/><rect x="470" y="760" width="110" height="40" fill="#d0d4d6"/><rect x="800" y="560" width="162" height="322" fill="#808488" rx="6"/><rect x="985" y="550" width="137" height="312" fill="#7a7e82" rx="6"/><path d="M990,720 L1120,715" fill="none" stroke="#4a4d50" stroke-width="14"/><rect x="650" y="560" width="112" height="342" fill="#25272b" rx="10"/><rect x="655" y="750" width="67" height="72" fill="#cc6228"/><circle cx="690" cy="640" r="16" fill="#2fa870"/><rect x="670" y="830" width="90" height="70" fill="#8a8e92" rx="20"/><rect x="440" y="840" width="52" height="62" fill="#d86a28" rx="6"/><ellipse cx="335" cy="720" rx="25" ry="60" fill="#17191b"/><circle cx="570" cy="1150" r="42" fill="#0e0f11"/><circle cx="745" cy="1130" r="42" fill="#0e0f11"/><circle cx="915" cy="1100" r="42" fill="#0e0f11"/><circle cx="380" cy="1075" r="12" fill="#b5561f"/><circle cx="690" cy="1070" r="12" fill="#b5561f"/><circle cx="975" cy="1030" r="12" fill="#b5561f"/><circle cx="320" cy="1170" r="12" fill="#b5561f"/><circle cx="780" cy="1160" r="12" fill="#b5561f"/></svg>
<svg class="pr" style="left:524px;top:1200px" width="56" height="60" viewBox="0 0 1350 1446" preserveAspectRatio="none"><polygon points="390,260 420,160 560,160 580,1340 440,1200 400,1100" fill="#d4d6d8" stroke="#d4d6d8" stroke-width="7" stroke-linejoin="round"/><polygon points="560,160 720,170 720,310 750,320 750,1290 580,1340" fill="#e5e7e9" stroke="#e5e7e9" stroke-width="7" stroke-linejoin="round"/><polygon points="420,160 560,160 720,170 700,150 440,145" fill="#eef0f1" stroke="#eef0f1" stroke-width="7" stroke-linejoin="round"/><circle cx="630" cy="240" r="26" fill="#4a4e58"/><ellipse cx="420" cy="470" rx="22" ry="34" fill="#5a5e66"/><ellipse cx="432" cy="962" rx="22" ry="36" fill="#5a5e66"/><rect x="470" y="480" width="50" height="80" fill="#9a9ea4"/><rect x="450" y="620" width="50" height="140" fill="#c4c6c8"/><polygon points="600,400 740,390 782,560 752,700 772,1050 722,1180 600,1180" fill="#3a4a58" stroke="#3a4a58" stroke-width="7" stroke-linejoin="round"/><rect x="600" y="600" width="32" height="500" fill="#101214"/><circle cx="635" cy="518" r="13" fill="#1f4ad8"/><circle cx="688" cy="518" r="13" fill="#1f4ad8"/><circle cx="660" cy="660" r="13" fill="#1f4ad8"/><circle cx="615" cy="688" r="13" fill="#1f4ad8"/><circle cx="660" cy="758" r="13" fill="#1f4ad8"/><circle cx="615" cy="782" r="13" fill="#1f4ad8"/><circle cx="660" cy="855" r="13" fill="#1f4ad8"/><circle cx="615" cy="880" r="13" fill="#1f4ad8"/><circle cx="625" cy="1280" r="18" fill="#5a5e66"/></svg>
<svg class="pr" style="left:522px;top:1296px" width="58" height="60" viewBox="0 0 1350 1397" preserveAspectRatio="none"><polygon points="190,190 320,270 380,560 380,1260 230,1150" fill="#cfd0ce" stroke="#cfd0ce" stroke-width="7" stroke-linejoin="round"/><polygon points="190,190 900,140 1080,200 1090,520 330,560 320,270" fill="#e9e9e7" stroke="#e9e9e7" stroke-width="7" stroke-linejoin="round"/><polygon points="320,270 1080,225 1090,520 330,560" fill="#efefed" stroke="#efefed" stroke-width="7" stroke-linejoin="round"/><polygon points="370,560 1150,520 1150,1010 380,1060" fill="#f1f1ef" stroke="#f1f1ef" stroke-width="7" stroke-linejoin="round"/><polygon points="380,1060 1080,1010 1080,1200 400,1270" fill="#e4e4e2" stroke="#e4e4e2" stroke-width="7" stroke-linejoin="round"/><path d="M380,1060 L1150,1010" fill="none" stroke="#c4c4c2" stroke-width="12"/><path d="M370,562 L1150,522" fill="none" stroke="#d0d0ce" stroke-width="10"/><path d="M575,550 L580,1047" fill="none" stroke="#c9c9c7" stroke-width="10"/><path d="M505,250 L515,540" fill="none" stroke="#dcdcda" stroke-width="8"/><path d="M770,540 L775,1034" fill="none" stroke="#c9c9c7" stroke-width="10"/><path d="M700,250 L710,540" fill="none" stroke="#dcdcda" stroke-width="8"/><path d="M965,530 L970,1021" fill="none" stroke="#c9c9c7" stroke-width="10"/><path d="M895,250 L905,540" fill="none" stroke="#dcdcda" stroke-width="8"/><circle cx="430" cy="400" r="42" fill="#1f2123"/><circle cx="422" cy="392" r="14" fill="#5a5c5e"/><circle cx="620" cy="380" r="42" fill="#1f2123"/><circle cx="612" cy="372" r="14" fill="#5a5c5e"/><circle cx="805" cy="370" r="42" fill="#1f2123"/><circle cx="797" cy="362" r="14" fill="#5a5c5e"/><circle cx="990" cy="360" r="42" fill="#1f2123"/><circle cx="982" cy="352" r="14" fill="#5a5c5e"/><circle cx="435" cy="625" r="26" fill="#5a5c5e"/><circle cx="630" cy="610" r="26" fill="#5a5c5e"/><circle cx="820" cy="590" r="26" fill="#5a5c5e"/><circle cx="1010" cy="575" r="26" fill="#5a5c5e"/><rect x="390" y="650" width="158" height="38" fill="#3dc0a8" rx="14"/><rect x="450" y="685" width="90" height="35" fill="#8adccc" rx="14"/><rect x="585" y="640" width="158" height="38" fill="#3dc0a8" rx="14"/><rect x="645" y="675" width="90" height="35" fill="#8adccc" rx="14"/><rect x="790" y="620" width="158" height="38" fill="#3dc0a8" rx="14"/><rect x="850" y="655" width="90" height="35" fill="#8adccc" rx="14"/><rect x="985" y="600" width="158" height="38" fill="#3dc0a8" rx="14"/><rect x="1045" y="635" width="90" height="35" fill="#8adccc" rx="14"/><rect x="523" y="778" width="44" height="44" fill="#a9a9a7" rx="6"/><rect x="718" y="768" width="44" height="44" fill="#a9a9a7" rx="6"/><rect x="908" y="758" width="44" height="44" fill="#a9a9a7" rx="6"/><rect x="1088" y="748" width="44" height="44" fill="#a9a9a7" rx="6"/><rect x="400" y="985" width="150" height="22" fill="#b9b9b7"/><rect x="600" y="975" width="150" height="22" fill="#b9b9b7"/><rect x="790" y="960" width="150" height="22" fill="#b9b9b7"/><rect x="985" y="945" width="150" height="22" fill="#b9b9b7"/><circle cx="805" cy="1110" r="36" fill="#222426"/><circle cx="620" cy="1130" r="40" fill="#f4f4f2"/><circle cx="985" cy="1095" r="40" fill="#f4f4f2"/></svg>
<svg class="pr" style="left:718px;top:1106px" width="60" height="60" viewBox="0 0 1350 1350" preserveAspectRatio="none"><polygon points="200,330 260,160 450,260 460,1130 280,1010 200,800" fill="#4a5058" stroke="#4a5058" stroke-width="7" stroke-linejoin="round"/><polygon points="260,160 940,110 1170,220 1150,280 450,260" fill="#4a4e54" stroke="#4a4e54" stroke-width="7" stroke-linejoin="round"/><polygon points="450,260 1170,240 1180,500 460,500" fill="#3a3e44" stroke="#3a3e44" stroke-width="7" stroke-linejoin="round"/><rect x="570" y="290" width="472" height="62" fill="#6a6e72" rx="6"/><rect x="1060" y="280" width="70" height="70" fill="#111316"/><rect x="288" y="255" width="64" height="117" fill="none" rx="24" stroke="#0c0d0f" stroke-width="26"/><polygon points="200,330 250,340 260,1000 200,800" fill="#2c3036" stroke="#2c3036" stroke-width="7" stroke-linejoin="round"/><polygon points="460,500 1140,480 1160,1040 470,1100" fill="#3f4650" stroke="#3f4650" stroke-width="7" stroke-linejoin="round"/><polygon points="460,500 520,520 520,1090 470,1100" fill="#0f1012" stroke="#0f1012" stroke-width="7" stroke-linejoin="round"/><rect x="520" y="520" width="182" height="572" fill="#4a525e" rx="6"/><rect x="570" y="650" width="102" height="50" fill="#6a7480"/><rect x="580" y="745" width="72" height="45" fill="#6a7480"/><rect x="575" y="860" width="95" height="180" fill="#566070"/><circle cx="620" cy="595" r="13" fill="#d86a20"/><rect x="720" y="540" width="222" height="522" fill="#4a525e" rx="6"/><rect x="745" y="675" width="67" height="42" fill="#d86a20" rx="6"/><circle cx="752" cy="772" r="15" fill="#d86a20"/><circle cx="800" cy="797" r="15" fill="#d86a20"/><rect x="868" y="648" width="54" height="64" fill="#1fa878" rx="6"/><rect x="855" y="758" width="62" height="44" fill="#e9e9e1" rx="10"/><rect x="935" y="540" width="67" height="502" fill="#0a0a0a" rx="10"/><defs><linearGradient id="wgy" x1="0" y1="0" x2="0" y2="1"><stop offset="0" stop-color="#c8802a"/><stop offset="0.15" stop-color="#f0c040"/><stop offset="0.7" stop-color="#e8b038"/><stop offset="1" stop-color="#6a3010"/></linearGradient></defs><rect x="947" y="560" width="48" height="400" fill="url(#wgy)" rx="8"/><rect x="1010" y="530" width="122" height="352" fill="#6a7078" rx="6"/><rect x="1020" y="600" width="90" height="40" fill="#1fa878"/><rect x="1030" y="680" width="70" height="180" fill="#8a9098"/><polygon points="460,1100 1160,1040 1160,1082 470,1142" fill="#0f1012" stroke="#0f1012" stroke-width="7" stroke-linejoin="round"/><polygon points="470,1140 1120,1082 1120,1182 500,1242" fill="#4a5260" stroke="#4a5260" stroke-width="7" stroke-linejoin="round"/><circle cx="600" cy="1150.0" r="14" fill="#0f1012"/><circle cx="820" cy="1136.8" r="14" fill="#0f1012"/><circle cx="885" cy="1132.9" r="14" fill="#0f1012"/><circle cx="930" cy="1130.2" r="14" fill="#0f1012"/><circle cx="975" cy="1127.5" r="14" fill="#0f1012"/><circle cx="1020" cy="1132" r="13" fill="#d86a20"/><rect x="700" y="1140" width="45" height="50" fill="#d0d0d0"/><polygon points="280,1010 460,1130 470,1230 400,1210" fill="#c9c9c7" stroke="#c9c9c7" stroke-width="7" stroke-linejoin="round"/></svg>
<svg class="pr" style="left:724px;top:1198px" width="56" height="56" viewBox="0 0 1350 1350" preserveAspectRatio="none"><polygon points="250,200 360,180 370,1240 260,1210" fill="#2e3238" stroke="#2e3238" stroke-width="7" stroke-linejoin="round"/><polygon points="360,185 980,200 980,310 1110,320 1110,1080 990,1100 990,1230 370,1240" fill="#eceeee" stroke="#eceeee" stroke-width="7" stroke-linejoin="round"/><polygon points="360,185 520,190 520,1235 370,1240" fill="#e2e4e4" stroke="#e2e4e4" stroke-width="7" stroke-linejoin="round"/><ellipse cx="470" cy="225" rx="36" ry="46" fill="#111214"/><ellipse cx="615" cy="225" rx="36" ry="46" fill="#111214"/><ellipse cx="760" cy="230" rx="36" ry="46" fill="#111214"/><ellipse cx="900" cy="235" rx="36" ry="46" fill="#111214"/><ellipse cx="470" cy="1175" rx="38" ry="46" fill="#111214"/><ellipse cx="615" cy="1170" rx="38" ry="46" fill="#111214"/><ellipse cx="760" cy="1165" rx="38" ry="46" fill="#111214"/><ellipse cx="905" cy="1160" rx="38" ry="46" fill="#111214"/><rect x="522" y="200" width="36" height="120" fill="#c4c8c8"/><rect x="522" y="1090" width="36" height="130" fill="#c4c8c8"/><rect x="672" y="200" width="36" height="120" fill="#c4c8c8"/><rect x="672" y="1090" width="36" height="130" fill="#c4c8c8"/><rect x="817" y="200" width="36" height="120" fill="#c4c8c8"/><rect x="817" y="1090" width="36" height="130" fill="#c4c8c8"/><polygon points="530,410 1100,425 1100,442 530,428" fill="#6fd0c0" stroke="#6fd0c0" stroke-width="7" stroke-linejoin="round"/><rect x="535" y="480" width="575" height="142" fill="#4a5058" rx="6"/><rect x="960" y="515" width="102" height="87" fill="#f1f1f1" rx="4"/><path d="M570,540 L930,540" fill="none" stroke="#8a929c" stroke-width="30" stroke-dasharray="40 50 70 40"/><rect x="965" y="650" width="92" height="92" fill="#c9c9c9" rx="4"/><rect x="920" y="870" width="190" height="152" fill="#5a6068" rx="6"/><rect x="950" y="900" width="130" height="90" fill="#6a727a"/><rect x="550" y="700" width="150" height="320" fill="#dadcdc" rx="6"/><rect x="575" y="990" width="95" height="30" fill="#b9bcbc"/><path d="M560,760 L580,760 M560,860 L580,860 M690,720 L740,720 M690,800 L720,800 M690,890 L720,890" fill="none" stroke="#a9b5c1" stroke-width="18"/><circle cx="640" cy="660" r="10" fill="#c8402a"/></svg>
<svg class="pr" style="left:712px;top:1298px" width="82" height="44" viewBox="0 0 1350 724" preserveAspectRatio="none"><path d="M312,246 L660,246" fill="none" stroke="#c9c9c9" stroke-width="22"/><path d="M312,240 L660,240" fill="none" stroke="#e9e9e9" stroke-width="8"/><rect x="135" y="226" width="177" height="56" fill="#1a1a1a" rx="26"/><circle cx="162" cy="255" r="38" fill="#1a1a1a"/><polygon points="650,222 700,212 725,300 665,312" fill="#dcd8d4" stroke="#dcd8d4" stroke-width="7" stroke-linejoin="round"/><polygon points="700,320 790,230 832,262 792,442 700,402" fill="#5a5a5a" stroke="#5a5a5a" stroke-width="7" stroke-linejoin="round"/><polygon points="705,360 770,390 775,430 705,400" fill="#c9c9c9" stroke="#c9c9c9" stroke-width="7" stroke-linejoin="round"/><path d="M830,250 L965,302 M830,332 L932,402" fill="none" stroke="#c8a040" stroke-width="18" stroke-dasharray="22 14"/><polygon points="840,270 950,310 930,390 840,340" fill="#f4f0ea" stroke="#f4f0ea" stroke-width="7" stroke-linejoin="round"/><polygon points="890,400 1130,140 1162,172 1000,422 922,622 880,622" fill="#a25b29" stroke="#a25b29" stroke-width="7" stroke-linejoin="round"/><polygon points="1000,300 1190,230 1215,300 1200,420 1060,520 1000,450" fill="#3a2a20" stroke="#3a2a20" stroke-width="7" stroke-linejoin="round"/><polygon points="1090,180 1160,150 1200,250 1120,280" fill="#a25b29" stroke="#a25b29" stroke-width="7" stroke-linejoin="round"/><polygon points="940,480 1040,440 1050,560 1000,620 940,600" fill="#6a5a50" stroke="#6a5a50" stroke-width="7" stroke-linejoin="round"/><path d="M892,420 L892,610" fill="none" stroke="#e0b040" stroke-width="20" stroke-dasharray="16 18"/><polygon points="950,520 1020,500 1010,600 960,610" fill="#e4e0dc" stroke="#e4e0dc" stroke-width="7" stroke-linejoin="round"/><path d="M1010,190 L1130,330 M960,330 L1080,470" fill="none" stroke="#c8702d" stroke-width="24" stroke-dasharray="20 20"/></svg>
</div>
</body>
</html>
